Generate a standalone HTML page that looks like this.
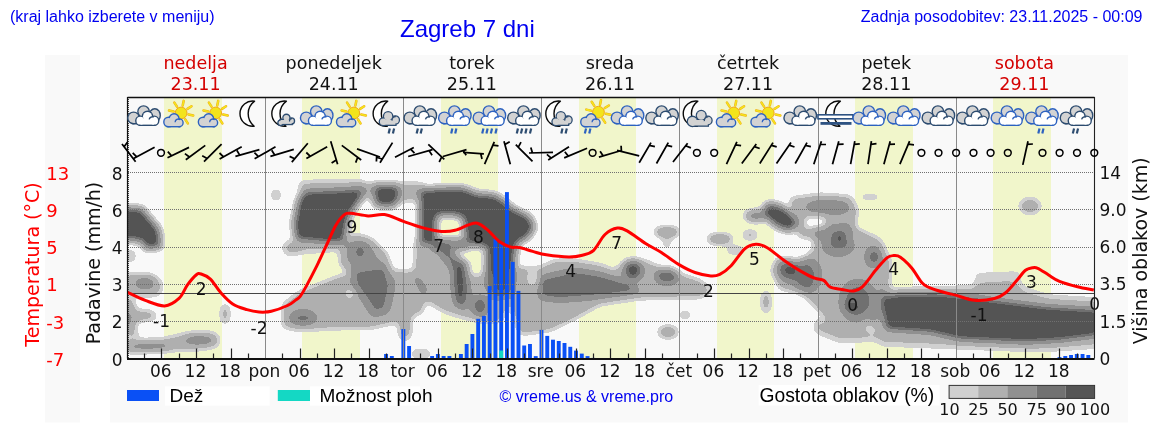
<!DOCTYPE html>
<html><head><meta charset="utf-8"><title>Zagreb 7 dni</title>
<style>html,body{margin:0;padding:0;background:#fff;overflow:hidden}svg{display:block}</style></head>
<body><svg width="1152" height="443" viewBox="0 0 1152 443">
<rect x="45" y="55" width="35" height="367.5" fill="#f9f9f9"/>
<rect x="110" y="55" width="1018" height="367.5" fill="#f9f9f9"/>
<rect x="127.5" y="97.0" width="967.0" height="261.5" fill="#f9f9f9"/>
<rect x="164.0" y="97.0" width="58.0" height="261.5" fill="#f1f6cb"/>
<rect x="302.0" y="97.0" width="58.0" height="261.5" fill="#f1f6cb"/>
<rect x="441.0" y="97.0" width="57.0" height="261.5" fill="#f1f6cb"/>
<rect x="579.0" y="97.0" width="57.0" height="261.5" fill="#f1f6cb"/>
<rect x="717.0" y="97.0" width="57.0" height="261.5" fill="#f1f6cb"/>
<rect x="855.0" y="97.0" width="58.0" height="261.5" fill="#f1f6cb"/>
<rect x="993.0" y="97.0" width="58.0" height="261.5" fill="#f1f6cb"/>
<defs><filter id="cf" x="127.5" y="160" width="967" height="199" filterUnits="userSpaceOnUse" color-interpolation-filters="sRGB">
<feGaussianBlur in="SourceAlpha" stdDeviation="3.5" result="b"/>
<feColorMatrix in="b" type="matrix" values="0 0 0 1 0 0 0 0 1 0 0 0 0 1 0 0 0 0 1 0" result="m"/>
<feComponentTransfer in="m">
<feFuncR type="discrete" tableValues="1.000 1.000 0.816 0.816 0.816 0.690 0.690 0.690 0.690 0.690 0.565 0.565 0.565 0.565 0.565 0.440 0.440 0.440 0.333 0.333"/>
<feFuncG type="discrete" tableValues="1.000 1.000 0.816 0.816 0.816 0.690 0.690 0.690 0.690 0.690 0.565 0.565 0.565 0.565 0.565 0.440 0.440 0.440 0.333 0.333"/>
<feFuncB type="discrete" tableValues="1.000 1.000 0.816 0.816 0.816 0.690 0.690 0.690 0.690 0.690 0.565 0.565 0.565 0.565 0.565 0.440 0.440 0.440 0.333 0.333"/>
<feFuncA type="discrete" tableValues="0 0 1 1 1 1 1 1 1 1 1 1 1 1 1 1 1 1 1 1"/>
</feComponentTransfer></filter>
<clipPath id="cc"><rect x="128" y="165" width="966.5" height="193.5"/></clipPath></defs>
<g clip-path="url(#cc)"><g filter="url(#cf)" fill="#000">
<path d="M120,207 L142,208 L150,218 L159.5,229 L161.5,247.5 L146,249.5 L141,241.5 L120,239.5 Z" fill-opacity="1" fill-rule="evenodd"/>
<ellipse cx="130" cy="256" rx="4" ry="5" fill-opacity="0.45"/>
<path d="M124,275 L135,274 L152,275 L160,281 L162,289 L157,295 L135,295 L124,294 Z" fill-opacity="0.42" fill-rule="evenodd"/>
<ellipse cx="145" cy="283" rx="8" ry="4" fill-opacity="0.75"/>
<path d="M122,299 L133,299 L135,311 L152,312 L157,318 L136,321 L133,331 L122,331 Z" fill-opacity="0.45" fill-rule="evenodd"/>
<ellipse cx="128" cy="320" rx="5" ry="10" fill-opacity="0.2"/>
<path d="M122,341 L160,340 L178,336 L190,333 L214,333 L219,338 L217,346 L200,349 L170,350 L122,352 Z" fill-opacity="0.42" fill-rule="evenodd"/>
<ellipse cx="199" cy="340" rx="14" ry="2.5" fill-opacity="0.85"/>
<ellipse cx="150" cy="347" rx="21" ry="2.5" fill-opacity="0.75"/>
<ellipse cx="132" cy="334" rx="6" ry="5" fill-opacity="0.3"/>
<ellipse cx="225" cy="314" rx="3" ry="10" fill-opacity="0.5"/>
<ellipse cx="276" cy="195" rx="2.5" ry="4" fill-opacity="0.7"/>
<path d="M306,191 L320,190.5 L340,189.8 L358,188.5 L363,195 L358,204 L352,212 L348,222 L346,235 L343,242 L330,243 L310,241 L296,240 L294,232 L293.5,220 L295.5,214 L296.5,205 L300,196 Z" fill-opacity="1" fill-rule="evenodd"/>
<path d="M300,182 L330,181 L360,181 L368,188 L362,200 L300,198 Z" fill-opacity="0.35" fill-rule="evenodd"/>
<ellipse cx="292" cy="248" rx="9" ry="7" fill-opacity="0.35"/>
<path d="M296,238 L345,238 L343,250 L300,253 Z" fill-opacity="0.3" fill-rule="evenodd"/>
<path d="M356,184 L424,184 L424,199 L400,201 L378,200 L365,197 L356,196 Z" fill-opacity="0.42" fill-rule="evenodd"/>
<path d="M374,185 L398,185 L399,200 L393,207 L375,206 Z" fill-opacity="1" fill-rule="evenodd"/>
<path d="M343,240 L355,235 L370,239 L385,253 L391,268 L380,276 L350,274 L340,262 Z" fill-opacity="0.5" fill-rule="evenodd"/>
<ellipse cx="360" cy="252" rx="8" ry="9" fill-opacity="0.6"/>
<path d="M283,305 L300,292 L320,284 L340,276 L380,270 L415,272 L428,288 L422,312 L392,323 L370,328 L340,328 L300,330 L283,327 Z M346,289 L354,289 L354,298 L346,298 Z" fill-opacity="0.4" fill-rule="evenodd"/>
<path d="M352,270 L386,267 L394,284 L388,312 L373,316 L363,300 L352,286 Z" fill-opacity="0.62" fill-rule="evenodd"/>
<ellipse cx="303" cy="318" rx="13" ry="7" fill-opacity="0.65"/>
<path d="M419.5,190 L432,188 L460,187 L468,189 L476,193 L495,194.5 L505,201 L512,207.5 L530,216.5 L535,227.8 L528,238 L518,243 L516,253 L514,270 L486,270 L486,247 L472,246 L468,241 L464.5,238 L463,218 L452,215 L438,215.5 L436.5,222 L436.5,241 L436,244 L419.5,244 Z" fill-opacity="1" fill-rule="evenodd"/>
<path d="M432,239 L468,239 L470,249 L432,251 Z" fill-opacity="0.75" fill-rule="evenodd"/>
<path d="M416,240 L440,240 L455,252 L465,262 L468,276 L482,276 L486,268 L512,268 L512,300 L500,322 L482,322 L465,318 L445,312 L425,300 L414,280 Z" fill-opacity="0.38" fill-rule="evenodd"/>
<ellipse cx="480" cy="306" rx="8" ry="10" fill-opacity="0.8"/>
<path d="M436,240 L446,244 L456,255 L462,262 L468,262 L470,300 L465,310 L455,305 L452,270 L440,255 Z" fill-opacity="0.65" fill-rule="evenodd"/>
<ellipse cx="459" cy="282" rx="6" ry="22" fill-opacity="0.85"/>
<path d="M486,268 L514,268 L512,295 L495,300 L486,285 Z" fill-opacity="0.85" fill-rule="evenodd"/>
<path d="M512,268 L540,268 L555,261 L575,261 L600,265 L615,271 L625,261 L645,261 L660,268 L700,281 L712,291 L700,297 L640,298 L600,304 L575,318 L550,330 L520,334 L510,300 Z M528,271 L537,271 L537,285 L528,285 Z" fill-opacity="0.42" fill-rule="evenodd"/>
<path d="M540,278 L575,270 L600,274 L630,283 L640,292 L600,297 L560,300 L540,298 Z" fill-opacity="0.72" fill-rule="evenodd"/>
<ellipse cx="421" cy="354" rx="10" ry="3" fill-opacity="0.45"/>
<ellipse cx="405" cy="326" rx="6" ry="14" fill-opacity="0.42"/>
<ellipse cx="633" cy="270" rx="9" ry="10" fill-opacity="0.95"/>
<ellipse cx="667" cy="276" rx="11" ry="7" fill-opacity="0.88"/>
<ellipse cx="667" cy="232" rx="12" ry="3.5" fill-opacity="0.75"/>
<ellipse cx="667" cy="242" rx="3" ry="6" fill-opacity="0.35"/>
<ellipse cx="720" cy="239" rx="12" ry="3.5" fill-opacity="0.75"/>
<ellipse cx="685" cy="315" rx="5" ry="3" fill-opacity="0.45"/>
<ellipse cx="668" cy="332" rx="9" ry="5" fill-opacity="0.55"/>
<ellipse cx="780" cy="217" rx="19" ry="10" fill-opacity="1" transform="rotate(35 780 217)"/>
<path d="M790,199 L820,195 L850,197 L857,210 L853,232 L840,237 L800,237 Z M804,216 L826,216 L826,230 L804,230 Z" fill-opacity="0.45" fill-rule="evenodd"/>
<ellipse cx="828" cy="207" rx="20" ry="5" fill-opacity="0.65"/>
<ellipse cx="756" cy="216" rx="11" ry="5" fill-opacity="0.72"/>
<ellipse cx="750" cy="235" rx="7" ry="3.5" fill-opacity="0.45"/>
<ellipse cx="735" cy="250" rx="9" ry="2.5" fill-opacity="0.45"/>
<ellipse cx="766" cy="302" rx="3" ry="11" fill-opacity="0.55"/>
<path d="M812,228 L850,226 L880,240 L890,262 L888,295 L880,320 L860,326 L830,322 L810,300 L800,292 L780,288 L772,270 L778,258 L800,262 L815,250 Z" fill-opacity="0.45" fill-rule="evenodd"/>
<ellipse cx="805" cy="275" rx="14" ry="16" fill-opacity="0.6"/>
<ellipse cx="858" cy="300" rx="16" ry="18" fill-opacity="0.6"/>
<ellipse cx="838" cy="245" rx="14" ry="9" fill-opacity="0.55"/>
<ellipse cx="840" cy="238" rx="7" ry="6" fill-opacity="0.85"/>
<ellipse cx="874" cy="257" rx="6" ry="8" fill-opacity="0.85"/>
<ellipse cx="852" cy="307" rx="9" ry="6" fill-opacity="0.85"/>
<ellipse cx="788" cy="270" rx="10" ry="10" fill-opacity="0.85"/>
<ellipse cx="808" cy="285" rx="3" ry="3" fill-opacity="0.85"/>
<path d="M815,320 L860,322 L880,340 L840,342 L815,332 Z" fill-opacity="0.3" fill-rule="evenodd"/>
<path d="M881,297 L900,293 L940,293 L960,295 L1000,300 L1048,306 L1100,309 L1100,336 L1060,341 L1026,343 L960,340 L930,333 L885,330 Z" fill-opacity="1" fill-rule="evenodd"/>
<path d="M880,290 L960,287 L1010,284 L1050,296 L1100,299 L1100,347 L1040,351 L960,348 L880,345 L868,320 Z" fill-opacity="0.3" fill-rule="evenodd"/>
<path d="M975,273 L1020,271 L1022,290 L975,294 Z" fill-opacity="0.2" fill-rule="evenodd"/>
<ellipse cx="1030" cy="206" rx="10" ry="7" fill-opacity="0.45"/>
<ellipse cx="870" cy="197" rx="12" ry="1.5" fill-opacity="0.5"/>
<ellipse cx="944" cy="201" rx="2" ry="2" fill-opacity="0.5"/>
</g></g>
<rect x="384.12" y="354.00" width="3.9" height="4.50" fill="#0a50f5"/>
<rect x="389.88" y="356.00" width="3.9" height="2.50" fill="#0a50f5"/>
<rect x="401.39" y="329.00" width="3.9" height="29.50" fill="#0a50f5"/>
<rect x="407.14" y="346.00" width="3.9" height="12.50" fill="#0a50f5"/>
<rect x="430.17" y="356.00" width="3.9" height="2.50" fill="#0a50f5"/>
<rect x="435.92" y="354.00" width="3.9" height="4.50" fill="#0a50f5"/>
<rect x="441.68" y="356.00" width="3.9" height="2.50" fill="#0a50f5"/>
<rect x="447.44" y="356.00" width="3.9" height="2.50" fill="#0a50f5"/>
<rect x="458.95" y="354.00" width="3.9" height="4.50" fill="#0a50f5"/>
<rect x="464.70" y="344.00" width="3.9" height="14.50" fill="#0a50f5"/>
<rect x="470.46" y="334.00" width="3.9" height="24.50" fill="#0a50f5"/>
<rect x="476.22" y="318.80" width="3.9" height="39.70" fill="#0a50f5"/>
<rect x="481.97" y="315.90" width="3.9" height="42.60" fill="#0a50f5"/>
<rect x="487.73" y="286.10" width="3.9" height="72.40" fill="#0a50f5"/>
<rect x="493.48" y="238.90" width="3.9" height="119.60" fill="#0a50f5"/>
<rect x="499.24" y="243.90" width="3.9" height="114.60" fill="#0a50f5"/>
<rect x="505.00" y="192.10" width="3.9" height="166.40" fill="#0a50f5"/>
<rect x="510.75" y="261.90" width="3.9" height="96.60" fill="#0a50f5"/>
<rect x="516.51" y="290.90" width="3.9" height="67.60" fill="#0a50f5"/>
<rect x="522.26" y="345.50" width="3.9" height="13.00" fill="#0a50f5"/>
<rect x="528.02" y="344.00" width="3.9" height="14.50" fill="#0a50f5"/>
<rect x="533.78" y="356.10" width="3.9" height="2.40" fill="#0a50f5"/>
<rect x="539.53" y="329.90" width="3.9" height="28.60" fill="#0a50f5"/>
<rect x="545.29" y="335.90" width="3.9" height="22.60" fill="#0a50f5"/>
<rect x="551.04" y="339.70" width="3.9" height="18.80" fill="#0a50f5"/>
<rect x="556.80" y="341.00" width="3.9" height="17.50" fill="#0a50f5"/>
<rect x="562.56" y="343.00" width="3.9" height="15.50" fill="#0a50f5"/>
<rect x="568.31" y="346.80" width="3.9" height="11.70" fill="#0a50f5"/>
<rect x="574.07" y="350.60" width="3.9" height="7.90" fill="#0a50f5"/>
<rect x="579.82" y="353.60" width="3.9" height="4.90" fill="#0a50f5"/>
<rect x="585.58" y="356.10" width="3.9" height="2.40" fill="#0a50f5"/>
<rect x="591.34" y="357.90" width="3.9" height="0.60" fill="#0a50f5"/>
<rect x="1051.82" y="358.00" width="3.9" height="0.50" fill="#0a50f5"/>
<rect x="1057.57" y="357.10" width="3.9" height="1.40" fill="#0a50f5"/>
<rect x="1063.33" y="356.00" width="3.9" height="2.50" fill="#0a50f5"/>
<rect x="1069.08" y="355.00" width="3.9" height="3.50" fill="#0a50f5"/>
<rect x="1074.84" y="354.00" width="3.9" height="4.50" fill="#0a50f5"/>
<rect x="1080.60" y="354.00" width="3.9" height="4.50" fill="#0a50f5"/>
<rect x="1086.35" y="355.00" width="3.9" height="3.50" fill="#0a50f5"/>
<rect x="499.24" y="350.50" width="3.9" height="8" fill="#14d8c4"/>
<line x1="128" y1="321.5" x2="1094" y2="321.5" stroke="#707070" stroke-width="1" stroke-dasharray="1 1"/>
<line x1="128" y1="284.5" x2="1094" y2="284.5" stroke="#707070" stroke-width="1" stroke-dasharray="1 1"/>
<line x1="128" y1="247.5" x2="1094" y2="247.5" stroke="#707070" stroke-width="1" stroke-dasharray="1 1"/>
<line x1="128" y1="209.5" x2="1094" y2="209.5" stroke="#707070" stroke-width="1" stroke-dasharray="1 1"/>
<line x1="128" y1="172.5" x2="1094" y2="172.5" stroke="#707070" stroke-width="1" stroke-dasharray="1 1"/>
<line x1="127.5" y1="293.5" x2="1094.5" y2="293.5" stroke="#444" stroke-width="1"/>
<line x1="265.5" y1="97.0" x2="265.5" y2="358.5" stroke="#8a8a8a" stroke-width="1"/>
<line x1="403.5" y1="97.0" x2="403.5" y2="358.5" stroke="#8a8a8a" stroke-width="1"/>
<line x1="541.5" y1="97.0" x2="541.5" y2="358.5" stroke="#8a8a8a" stroke-width="1"/>
<line x1="679.5" y1="97.0" x2="679.5" y2="358.5" stroke="#8a8a8a" stroke-width="1"/>
<line x1="818.5" y1="97.0" x2="818.5" y2="358.5" stroke="#8a8a8a" stroke-width="1"/>
<line x1="956.5" y1="97.0" x2="956.5" y2="358.5" stroke="#8a8a8a" stroke-width="1"/>
<line x1="128.5" y1="97.0" x2="128.5" y2="358.5" stroke="#444" stroke-width="1" stroke-dasharray="1 1"/>
<path d="M127.5,292.3 C130.5,293.7 139.1,298.1 145.3,300.4 C151.5,302.7 159.0,306.2 164.6,305.9 C170.2,305.6 175.2,301.9 179.0,298.4 C182.8,294.9 184.5,289.0 187.3,285.1 C190.2,281.2 193.8,276.9 196.1,275.0 C198.4,273.1 198.8,273.3 201.2,274.0 C203.6,274.7 207.2,276.1 210.4,279.1 C213.6,282.2 216.8,288.2 220.5,292.3 C224.2,296.4 228.3,301.0 232.7,303.9 C237.1,306.8 242.6,308.2 247.0,309.6 C251.4,311.0 255.1,311.7 259.1,312.0 C263.2,312.3 266.6,312.3 271.3,311.2 C276.1,310.1 283.7,307.3 287.6,305.5 C291.6,303.7 292.9,302.1 295.0,300.6 C297.1,299.1 298.2,298.8 300.0,296.6 C301.8,294.4 302.7,292.7 305.5,287.6 C308.3,282.5 313.0,273.5 316.7,266.1 C320.4,258.7 324.3,249.8 327.5,243.0 C330.7,236.2 333.0,230.1 335.7,225.4 C338.4,220.8 341.3,217.1 343.8,215.1 C346.3,213.1 346.5,213.1 350.6,213.2 C354.7,213.3 362.6,215.7 368.2,215.9 C373.8,216.1 378.6,213.7 384.5,214.6 C390.4,215.5 397.1,219.2 403.4,221.4 C409.7,223.6 416.1,225.9 422.4,227.6 C428.7,229.3 436.0,231.0 441.4,231.4 C446.8,231.8 450.5,231.4 455.0,230.3 C459.5,229.2 464.8,226.1 468.5,224.9 C472.2,223.7 474.2,222.4 477.4,223.2 C480.6,224.0 484.0,226.9 487.6,229.9 C491.2,232.9 495.1,238.4 498.9,241.2 C502.6,244.0 506.7,245.8 510.1,246.9 C513.5,248.0 515.4,246.8 519.2,247.6 C523.0,248.3 528.2,250.2 532.7,251.4 C537.2,252.6 540.3,253.9 546.3,254.8 C552.3,255.7 562.8,256.9 568.8,257.0 C574.8,257.1 578.2,256.3 582.4,255.2 C586.5,254.1 589.9,253.7 593.7,250.3 C597.5,246.8 601.0,238.2 605.0,234.5 C609.0,230.8 613.6,228.7 617.4,228.1 C621.1,227.5 622.8,228.5 627.5,231.1 C632.2,233.7 640.0,239.9 645.6,243.5 C651.2,247.1 655.8,248.9 661.4,252.5 C667.0,256.1 673.8,261.6 679.4,264.9 C685.0,268.2 689.8,270.7 695.0,272.5 C700.2,274.3 706.7,275.6 710.8,275.9 C714.9,276.2 716.4,276.0 719.8,274.3 C723.2,272.6 727.0,270.0 731.1,265.7 C735.2,261.5 740.6,252.4 744.7,248.8 C748.8,245.2 752.1,244.5 755.9,244.3 C759.6,244.1 762.3,244.9 767.2,247.7 C772.1,250.5 779.6,257.3 785.3,261.2 C790.9,265.2 796.2,268.6 801.1,271.4 C806.0,274.2 810.8,276.7 814.6,278.2 C818.4,279.7 821.1,278.9 823.7,280.4 C826.3,281.9 827.4,285.7 830.4,287.2 C833.4,288.7 837.9,288.8 841.7,289.4 C845.5,290.0 849.6,291.4 853.0,291.0 C856.4,290.6 858.2,290.7 862.0,287.2 C865.8,283.8 871.5,275.2 875.6,270.3 C879.8,265.4 883.9,260.2 886.9,257.8 C889.9,255.4 891.4,255.7 893.6,255.6 C895.9,255.5 897.4,255.1 900.4,257.2 C903.4,259.3 908.1,263.7 911.7,268.0 C915.3,272.3 919.2,279.8 922.2,283.1 C925.2,286.4 926.1,286.2 929.4,287.6 C932.7,289.1 937.6,290.5 942.1,291.8 C946.6,293.1 951.1,294.0 956.5,295.4 C961.9,296.8 968.3,299.8 974.6,300.3 C980.9,300.8 989.4,299.7 994.5,298.5 C999.6,297.3 1001.7,295.9 1005.3,293.0 C1008.9,290.1 1012.8,285.1 1016.1,281.3 C1019.4,277.6 1022.5,272.8 1025.2,270.5 C1027.9,268.2 1030.3,268.2 1032.4,267.8 C1034.5,267.4 1035.1,267.1 1037.8,268.3 C1040.5,269.5 1045.0,272.8 1048.6,275.0 C1052.2,277.2 1054.7,279.4 1059.5,281.3 C1064.3,283.2 1071.8,285.3 1077.5,286.7 C1083.2,288.2 1091.1,289.4 1093.8,290.0" fill="none" stroke="#ff0000" stroke-width="3" stroke-linejoin="round"/>
<text x="161.6" y="326.8" text-anchor="middle" style="font-family:'DejaVu Sans',sans-serif;font-size:17px" fill="#111">-1</text>
<text x="201.2" y="294.7" text-anchor="middle" style="font-family:'DejaVu Sans',sans-serif;font-size:17px" fill="#111">2</text>
<text x="259.0" y="333.7" text-anchor="middle" style="font-family:'DejaVu Sans',sans-serif;font-size:17px" fill="#111">-2</text>
<text x="352.0" y="233.0" text-anchor="middle" style="font-family:'DejaVu Sans',sans-serif;font-size:17px" fill="#111">9</text>
<text x="438.7" y="251.9" text-anchor="middle" style="font-family:'DejaVu Sans',sans-serif;font-size:17px" fill="#111">7</text>
<text x="478.5" y="242.9" text-anchor="middle" style="font-family:'DejaVu Sans',sans-serif;font-size:17px" fill="#111">8</text>
<text x="570.6" y="277.2" text-anchor="middle" style="font-family:'DejaVu Sans',sans-serif;font-size:17px" fill="#111">4</text>
<text x="616.7" y="248.5" text-anchor="middle" style="font-family:'DejaVu Sans',sans-serif;font-size:17px" fill="#111">7</text>
<text x="708.5" y="296.7" text-anchor="middle" style="font-family:'DejaVu Sans',sans-serif;font-size:17px" fill="#111">2</text>
<text x="754.4" y="265.1" text-anchor="middle" style="font-family:'DejaVu Sans',sans-serif;font-size:17px" fill="#111">5</text>
<text x="852.6" y="311.4" text-anchor="middle" style="font-family:'DejaVu Sans',sans-serif;font-size:17px" fill="#111">0</text>
<text x="893.6" y="275.3" text-anchor="middle" style="font-family:'DejaVu Sans',sans-serif;font-size:17px" fill="#111">4</text>
<text x="979.1" y="321.3" text-anchor="middle" style="font-family:'DejaVu Sans',sans-serif;font-size:17px" fill="#111">-1</text>
<text x="1031.5" y="288.3" text-anchor="middle" style="font-family:'DejaVu Sans',sans-serif;font-size:17px" fill="#111">3</text>
<text x="1094.7" y="309.6" text-anchor="middle" style="font-family:'DejaVu Sans',sans-serif;font-size:17px" fill="#111">0</text>
<line x1="144.5" y1="358.5" x2="144.5" y2="353.5" stroke="#222" stroke-width="1.2"/>
<line x1="161.5" y1="358.5" x2="161.5" y2="348.5" stroke="#222" stroke-width="1.2"/>
<line x1="179.5" y1="358.5" x2="179.5" y2="353.5" stroke="#222" stroke-width="1.2"/>
<line x1="196.5" y1="358.5" x2="196.5" y2="348.5" stroke="#222" stroke-width="1.2"/>
<line x1="213.5" y1="358.5" x2="213.5" y2="353.5" stroke="#222" stroke-width="1.2"/>
<line x1="231.5" y1="358.5" x2="231.5" y2="348.5" stroke="#222" stroke-width="1.2"/>
<line x1="248.5" y1="358.5" x2="248.5" y2="353.5" stroke="#222" stroke-width="1.2"/>
<line x1="282.5" y1="358.5" x2="282.5" y2="353.5" stroke="#222" stroke-width="1.2"/>
<line x1="300.5" y1="358.5" x2="300.5" y2="348.5" stroke="#222" stroke-width="1.2"/>
<line x1="317.5" y1="358.5" x2="317.5" y2="353.5" stroke="#222" stroke-width="1.2"/>
<line x1="334.5" y1="358.5" x2="334.5" y2="348.5" stroke="#222" stroke-width="1.2"/>
<line x1="351.5" y1="358.5" x2="351.5" y2="353.5" stroke="#222" stroke-width="1.2"/>
<line x1="369.5" y1="358.5" x2="369.5" y2="348.5" stroke="#222" stroke-width="1.2"/>
<line x1="386.5" y1="358.5" x2="386.5" y2="353.5" stroke="#222" stroke-width="1.2"/>
<line x1="420.5" y1="358.5" x2="420.5" y2="353.5" stroke="#222" stroke-width="1.2"/>
<line x1="438.5" y1="358.5" x2="438.5" y2="348.5" stroke="#222" stroke-width="1.2"/>
<line x1="455.5" y1="358.5" x2="455.5" y2="353.5" stroke="#222" stroke-width="1.2"/>
<line x1="472.5" y1="358.5" x2="472.5" y2="348.5" stroke="#222" stroke-width="1.2"/>
<line x1="490.5" y1="358.5" x2="490.5" y2="353.5" stroke="#222" stroke-width="1.2"/>
<line x1="507.5" y1="358.5" x2="507.5" y2="348.5" stroke="#222" stroke-width="1.2"/>
<line x1="524.5" y1="358.5" x2="524.5" y2="353.5" stroke="#222" stroke-width="1.2"/>
<line x1="559.5" y1="358.5" x2="559.5" y2="353.5" stroke="#222" stroke-width="1.2"/>
<line x1="576.5" y1="358.5" x2="576.5" y2="348.5" stroke="#222" stroke-width="1.2"/>
<line x1="593.5" y1="358.5" x2="593.5" y2="353.5" stroke="#222" stroke-width="1.2"/>
<line x1="610.5" y1="358.5" x2="610.5" y2="348.5" stroke="#222" stroke-width="1.2"/>
<line x1="628.5" y1="358.5" x2="628.5" y2="353.5" stroke="#222" stroke-width="1.2"/>
<line x1="645.5" y1="358.5" x2="645.5" y2="348.5" stroke="#222" stroke-width="1.2"/>
<line x1="662.5" y1="358.5" x2="662.5" y2="353.5" stroke="#222" stroke-width="1.2"/>
<line x1="697.5" y1="358.5" x2="697.5" y2="353.5" stroke="#222" stroke-width="1.2"/>
<line x1="714.5" y1="358.5" x2="714.5" y2="348.5" stroke="#222" stroke-width="1.2"/>
<line x1="731.5" y1="358.5" x2="731.5" y2="353.5" stroke="#222" stroke-width="1.2"/>
<line x1="749.5" y1="358.5" x2="749.5" y2="348.5" stroke="#222" stroke-width="1.2"/>
<line x1="766.5" y1="358.5" x2="766.5" y2="353.5" stroke="#222" stroke-width="1.2"/>
<line x1="783.5" y1="358.5" x2="783.5" y2="348.5" stroke="#222" stroke-width="1.2"/>
<line x1="800.5" y1="358.5" x2="800.5" y2="353.5" stroke="#222" stroke-width="1.2"/>
<line x1="835.5" y1="358.5" x2="835.5" y2="353.5" stroke="#222" stroke-width="1.2"/>
<line x1="852.5" y1="358.5" x2="852.5" y2="348.5" stroke="#222" stroke-width="1.2"/>
<line x1="869.5" y1="358.5" x2="869.5" y2="353.5" stroke="#222" stroke-width="1.2"/>
<line x1="887.5" y1="358.5" x2="887.5" y2="348.5" stroke="#222" stroke-width="1.2"/>
<line x1="904.5" y1="358.5" x2="904.5" y2="353.5" stroke="#222" stroke-width="1.2"/>
<line x1="921.5" y1="358.5" x2="921.5" y2="348.5" stroke="#222" stroke-width="1.2"/>
<line x1="938.5" y1="358.5" x2="938.5" y2="353.5" stroke="#222" stroke-width="1.2"/>
<line x1="973.5" y1="358.5" x2="973.5" y2="353.5" stroke="#222" stroke-width="1.2"/>
<line x1="990.5" y1="358.5" x2="990.5" y2="348.5" stroke="#222" stroke-width="1.2"/>
<line x1="1008.5" y1="358.5" x2="1008.5" y2="353.5" stroke="#222" stroke-width="1.2"/>
<line x1="1025.5" y1="358.5" x2="1025.5" y2="348.5" stroke="#222" stroke-width="1.2"/>
<line x1="1042.5" y1="358.5" x2="1042.5" y2="353.5" stroke="#222" stroke-width="1.2"/>
<line x1="1059.5" y1="358.5" x2="1059.5" y2="348.5" stroke="#222" stroke-width="1.2"/>
<line x1="1077.5" y1="358.5" x2="1077.5" y2="353.5" stroke="#222" stroke-width="1.2"/>
<line x1="127.5" y1="97.5" x2="1094.5" y2="97.5" stroke="#111" stroke-width="1.3"/>
<line x1="1094.5" y1="97.0" x2="1094.5" y2="358.5" stroke="#222" stroke-width="1.1"/>
<line x1="127.0" y1="359.0" x2="1094.5" y2="359.0" stroke="#111" stroke-width="2"/>
<line x1="127.5" y1="97.0" x2="127.5" y2="358.5" stroke="#111" stroke-width="1.2"/>
<g><g fill="#2d4c70" stroke="#2d4c70" stroke-width="2.8"><ellipse cx="133.57" cy="117.90" rx="5.10" ry="5.10"/><ellipse cx="143.57" cy="111.60" rx="5.00" ry="5.00"/><ellipse cx="154.77" cy="115.40" rx="4.80" ry="5.90"/><rect x="133.57" y="116.00" width="21.20" height="7.00"/></g><g fill="#d3d3d3"><ellipse cx="133.57" cy="117.90" rx="5.10" ry="5.10"/><ellipse cx="143.57" cy="111.60" rx="5.00" ry="5.00"/><ellipse cx="154.77" cy="115.40" rx="4.80" ry="5.90"/><rect x="133.57" y="116.00" width="21.20" height="7.00"/></g><g fill="#2d4c70" stroke="#2d4c70" stroke-width="2.8"><ellipse cx="140.37" cy="120.70" rx="3.90" ry="3.90"/><ellipse cx="147.47" cy="116.50" rx="4.50" ry="4.50"/><ellipse cx="154.17" cy="120.70" rx="3.90" ry="3.90"/><rect x="140.37" y="119.00" width="13.80" height="5.60"/></g><g fill="#ffffff"><ellipse cx="140.37" cy="120.70" rx="3.90" ry="3.90"/><ellipse cx="147.47" cy="116.50" rx="4.50" ry="4.50"/><ellipse cx="154.17" cy="120.70" rx="3.90" ry="3.90"/><rect x="140.37" y="119.00" width="13.80" height="5.60"/></g><path d="M149.17,119.40 A3.6,3.6 0 0 1 153.77,117.00" fill="none" stroke="#2d4c70" stroke-width="1.4"/></g>
<g><line x1="188.54" y1="114.58" x2="193.23" y2="115.58" stroke="#f0a818" stroke-width="2.5" stroke-linecap="round"/><line x1="188.54" y1="114.58" x2="193.23" y2="115.58" stroke="#f5e61c" stroke-width="1.6" stroke-linecap="round"/><line x1="185.24" y1="119.37" x2="187.86" y2="123.40" stroke="#f0a818" stroke-width="2.5" stroke-linecap="round"/><line x1="185.24" y1="119.37" x2="187.86" y2="123.40" stroke="#f5e61c" stroke-width="1.6" stroke-linecap="round"/><line x1="179.52" y1="120.43" x2="178.53" y2="125.13" stroke="#f0a818" stroke-width="2.5" stroke-linecap="round"/><line x1="179.52" y1="120.43" x2="178.53" y2="125.13" stroke="#f5e61c" stroke-width="1.6" stroke-linecap="round"/><line x1="174.73" y1="117.14" x2="170.70" y2="119.75" stroke="#f0a818" stroke-width="2.5" stroke-linecap="round"/><line x1="174.73" y1="117.14" x2="170.70" y2="119.75" stroke="#f5e61c" stroke-width="1.6" stroke-linecap="round"/><line x1="173.67" y1="111.42" x2="168.97" y2="110.42" stroke="#f0a818" stroke-width="2.5" stroke-linecap="round"/><line x1="173.67" y1="111.42" x2="168.97" y2="110.42" stroke="#f5e61c" stroke-width="1.6" stroke-linecap="round"/><line x1="176.96" y1="106.63" x2="174.35" y2="102.60" stroke="#f0a818" stroke-width="2.5" stroke-linecap="round"/><line x1="176.96" y1="106.63" x2="174.35" y2="102.60" stroke="#f5e61c" stroke-width="1.6" stroke-linecap="round"/><line x1="182.68" y1="105.57" x2="183.68" y2="100.87" stroke="#f0a818" stroke-width="2.5" stroke-linecap="round"/><line x1="182.68" y1="105.57" x2="183.68" y2="100.87" stroke="#f5e61c" stroke-width="1.6" stroke-linecap="round"/><line x1="187.48" y1="108.86" x2="191.50" y2="106.25" stroke="#f0a818" stroke-width="2.5" stroke-linecap="round"/><line x1="187.48" y1="108.86" x2="191.50" y2="106.25" stroke="#f5e61c" stroke-width="1.6" stroke-linecap="round"/><circle cx="181.10" cy="113.00" r="5.9" fill="#f3e41c" stroke="#f0a818" stroke-width="1"/><g fill="#2d62c0" stroke="#2d62c0" stroke-width="2.8"><ellipse cx="168.60" cy="122.00" rx="4.10" ry="4.10"/><ellipse cx="174.10" cy="118.60" rx="4.20" ry="4.20"/><ellipse cx="179.20" cy="122.80" rx="3.20" ry="3.20"/><rect x="168.60" y="121.00" width="10.60" height="5.00"/></g><g fill="#d3d3d3"><ellipse cx="168.60" cy="122.00" rx="4.10" ry="4.10"/><ellipse cx="174.10" cy="118.60" rx="4.20" ry="4.20"/><ellipse cx="179.20" cy="122.80" rx="3.20" ry="3.20"/><rect x="168.60" y="121.00" width="10.60" height="5.00"/></g><path d="M175.10,122.20 A3.2,3.2 0 0 1 180.10,119.60" fill="none" stroke="#2d62c0" stroke-width="1.3"/></g>
<g><line x1="223.07" y1="114.58" x2="227.77" y2="115.58" stroke="#f0a818" stroke-width="2.5" stroke-linecap="round"/><line x1="223.07" y1="114.58" x2="227.77" y2="115.58" stroke="#f5e61c" stroke-width="1.6" stroke-linecap="round"/><line x1="219.78" y1="119.37" x2="222.39" y2="123.40" stroke="#f0a818" stroke-width="2.5" stroke-linecap="round"/><line x1="219.78" y1="119.37" x2="222.39" y2="123.40" stroke="#f5e61c" stroke-width="1.6" stroke-linecap="round"/><line x1="214.06" y1="120.43" x2="213.06" y2="125.13" stroke="#f0a818" stroke-width="2.5" stroke-linecap="round"/><line x1="214.06" y1="120.43" x2="213.06" y2="125.13" stroke="#f5e61c" stroke-width="1.6" stroke-linecap="round"/><line x1="209.27" y1="117.14" x2="205.24" y2="119.75" stroke="#f0a818" stroke-width="2.5" stroke-linecap="round"/><line x1="209.27" y1="117.14" x2="205.24" y2="119.75" stroke="#f5e61c" stroke-width="1.6" stroke-linecap="round"/><line x1="208.21" y1="111.42" x2="203.51" y2="110.42" stroke="#f0a818" stroke-width="2.5" stroke-linecap="round"/><line x1="208.21" y1="111.42" x2="203.51" y2="110.42" stroke="#f5e61c" stroke-width="1.6" stroke-linecap="round"/><line x1="211.50" y1="106.63" x2="208.89" y2="102.60" stroke="#f0a818" stroke-width="2.5" stroke-linecap="round"/><line x1="211.50" y1="106.63" x2="208.89" y2="102.60" stroke="#f5e61c" stroke-width="1.6" stroke-linecap="round"/><line x1="217.22" y1="105.57" x2="218.22" y2="100.87" stroke="#f0a818" stroke-width="2.5" stroke-linecap="round"/><line x1="217.22" y1="105.57" x2="218.22" y2="100.87" stroke="#f5e61c" stroke-width="1.6" stroke-linecap="round"/><line x1="222.01" y1="108.86" x2="226.04" y2="106.25" stroke="#f0a818" stroke-width="2.5" stroke-linecap="round"/><line x1="222.01" y1="108.86" x2="226.04" y2="106.25" stroke="#f5e61c" stroke-width="1.6" stroke-linecap="round"/><circle cx="215.64" cy="113.00" r="5.9" fill="#f3e41c" stroke="#f0a818" stroke-width="1"/><g fill="#2d62c0" stroke="#2d62c0" stroke-width="2.8"><ellipse cx="203.14" cy="122.00" rx="4.10" ry="4.10"/><ellipse cx="208.64" cy="118.60" rx="4.20" ry="4.20"/><ellipse cx="213.74" cy="122.80" rx="3.20" ry="3.20"/><rect x="203.14" y="121.00" width="10.60" height="5.00"/></g><g fill="#d3d3d3"><ellipse cx="203.14" cy="122.00" rx="4.10" ry="4.10"/><ellipse cx="208.64" cy="118.60" rx="4.20" ry="4.20"/><ellipse cx="213.74" cy="122.80" rx="3.20" ry="3.20"/><rect x="203.14" y="121.00" width="10.60" height="5.00"/></g><path d="M209.64,122.20 A3.2,3.2 0 0 1 214.64,119.60" fill="none" stroke="#2d62c0" stroke-width="1.3"/></g>
<g><path d="M254.58,101.10 A12.67,12.67 0 1 0 254.18,126.20 A15.80,15.80 0 0 1 254.58,101.10 Z" fill="#ffffff" stroke="#0a0a0a" stroke-width="1.4" stroke-linejoin="round"/></g>
<g><path d="M286.41,101.10 A12.67,12.67 0 1 0 286.01,126.20 A15.80,15.80 0 0 1 286.41,101.10 Z" fill="#ffffff" stroke="#0a0a0a" stroke-width="1.4" stroke-linejoin="round"/><g fill="#2d4c70" stroke="#2d4c70" stroke-width="2.6"><ellipse cx="280.61" cy="122.80" rx="2.10" ry="2.10"/><ellipse cx="286.41" cy="117.80" rx="2.90" ry="2.90"/><ellipse cx="291.61" cy="120.90" rx="2.30" ry="2.30"/><rect x="280.61" y="120.00" width="11.00" height="3.90"/></g><g fill="#d3d3d3"><ellipse cx="280.61" cy="122.80" rx="2.10" ry="2.10"/><ellipse cx="286.41" cy="117.80" rx="2.90" ry="2.90"/><ellipse cx="291.61" cy="120.90" rx="2.30" ry="2.30"/><rect x="280.61" y="120.00" width="11.00" height="3.90"/></g><path d="M289.61,121.50 A2.30,2.30 0 0 1 292.11,118.60" fill="none" stroke="#2d4c70" stroke-width="1.3"/></g>
<g><g fill="#2d62c0" stroke="#2d62c0" stroke-width="2.8"><ellipse cx="306.25" cy="117.90" rx="5.10" ry="5.10"/><ellipse cx="316.25" cy="111.60" rx="5.00" ry="5.00"/><ellipse cx="327.45" cy="115.40" rx="4.80" ry="5.90"/><rect x="306.25" y="116.00" width="21.20" height="7.00"/></g><g fill="#d3d3d3"><ellipse cx="306.25" cy="117.90" rx="5.10" ry="5.10"/><ellipse cx="316.25" cy="111.60" rx="5.00" ry="5.00"/><ellipse cx="327.45" cy="115.40" rx="4.80" ry="5.90"/><rect x="306.25" y="116.00" width="21.20" height="7.00"/></g><g fill="#2d62c0" stroke="#2d62c0" stroke-width="2.8"><ellipse cx="313.05" cy="120.70" rx="3.90" ry="3.90"/><ellipse cx="320.15" cy="116.50" rx="4.50" ry="4.50"/><ellipse cx="326.85" cy="120.70" rx="3.90" ry="3.90"/><rect x="313.05" y="119.00" width="13.80" height="5.60"/></g><g fill="#ffffff"><ellipse cx="313.05" cy="120.70" rx="3.90" ry="3.90"/><ellipse cx="320.15" cy="116.50" rx="4.50" ry="4.50"/><ellipse cx="326.85" cy="120.70" rx="3.90" ry="3.90"/><rect x="313.05" y="119.00" width="13.80" height="5.60"/></g><path d="M321.85,119.40 A3.6,3.6 0 0 1 326.45,117.00" fill="none" stroke="#2d62c0" stroke-width="1.4"/></g>
<g><line x1="361.22" y1="114.58" x2="365.91" y2="115.58" stroke="#f0a818" stroke-width="2.5" stroke-linecap="round"/><line x1="361.22" y1="114.58" x2="365.91" y2="115.58" stroke="#f5e61c" stroke-width="1.6" stroke-linecap="round"/><line x1="357.92" y1="119.37" x2="360.54" y2="123.40" stroke="#f0a818" stroke-width="2.5" stroke-linecap="round"/><line x1="357.92" y1="119.37" x2="360.54" y2="123.40" stroke="#f5e61c" stroke-width="1.6" stroke-linecap="round"/><line x1="352.20" y1="120.43" x2="351.21" y2="125.13" stroke="#f0a818" stroke-width="2.5" stroke-linecap="round"/><line x1="352.20" y1="120.43" x2="351.21" y2="125.13" stroke="#f5e61c" stroke-width="1.6" stroke-linecap="round"/><line x1="347.41" y1="117.14" x2="343.38" y2="119.75" stroke="#f0a818" stroke-width="2.5" stroke-linecap="round"/><line x1="347.41" y1="117.14" x2="343.38" y2="119.75" stroke="#f5e61c" stroke-width="1.6" stroke-linecap="round"/><line x1="346.35" y1="111.42" x2="341.65" y2="110.42" stroke="#f0a818" stroke-width="2.5" stroke-linecap="round"/><line x1="346.35" y1="111.42" x2="341.65" y2="110.42" stroke="#f5e61c" stroke-width="1.6" stroke-linecap="round"/><line x1="349.64" y1="106.63" x2="347.03" y2="102.60" stroke="#f0a818" stroke-width="2.5" stroke-linecap="round"/><line x1="349.64" y1="106.63" x2="347.03" y2="102.60" stroke="#f5e61c" stroke-width="1.6" stroke-linecap="round"/><line x1="355.36" y1="105.57" x2="356.36" y2="100.87" stroke="#f0a818" stroke-width="2.5" stroke-linecap="round"/><line x1="355.36" y1="105.57" x2="356.36" y2="100.87" stroke="#f5e61c" stroke-width="1.6" stroke-linecap="round"/><line x1="360.16" y1="108.86" x2="364.18" y2="106.25" stroke="#f0a818" stroke-width="2.5" stroke-linecap="round"/><line x1="360.16" y1="108.86" x2="364.18" y2="106.25" stroke="#f5e61c" stroke-width="1.6" stroke-linecap="round"/><circle cx="353.78" cy="113.00" r="5.9" fill="#f3e41c" stroke="#f0a818" stroke-width="1"/><g fill="#2d62c0" stroke="#2d62c0" stroke-width="2.8"><ellipse cx="341.28" cy="122.00" rx="4.10" ry="4.10"/><ellipse cx="346.78" cy="118.60" rx="4.20" ry="4.20"/><ellipse cx="351.88" cy="122.80" rx="3.20" ry="3.20"/><rect x="341.28" y="121.00" width="10.60" height="5.00"/></g><g fill="#d3d3d3"><ellipse cx="341.28" cy="122.00" rx="4.10" ry="4.10"/><ellipse cx="346.78" cy="118.60" rx="4.20" ry="4.20"/><ellipse cx="351.88" cy="122.80" rx="3.20" ry="3.20"/><rect x="341.28" y="121.00" width="10.60" height="5.00"/></g><path d="M347.78,122.20 A3.2,3.2 0 0 1 352.78,119.60" fill="none" stroke="#2d62c0" stroke-width="1.3"/></g>
<g><path d="M387.72,101.10 A12.67,12.67 0 1 0 387.32,126.20 A15.80,15.80 0 0 1 387.72,101.10 Z" fill="#ffffff" stroke="#0a0a0a" stroke-width="1.4" stroke-linejoin="round"/><g fill="#2d4c70" stroke="#2d4c70" stroke-width="2.6"><ellipse cx="383.22" cy="121.80" rx="3.30" ry="3.30"/><ellipse cx="388.12" cy="116.30" rx="4.00" ry="4.00"/><ellipse cx="395.32" cy="120.00" rx="3.50" ry="3.50"/><rect x="383.22" y="120.00" width="12.10" height="4.70"/></g><g fill="#d3d3d3"><ellipse cx="383.22" cy="121.80" rx="3.30" ry="3.30"/><ellipse cx="388.12" cy="116.30" rx="4.00" ry="4.00"/><ellipse cx="395.32" cy="120.00" rx="3.50" ry="3.50"/><rect x="383.22" y="120.00" width="12.10" height="4.70"/></g><path d="M392.12,120.60 A3.50,3.50 0 0 1 395.82,116.50" fill="none" stroke="#2d4c70" stroke-width="1.3"/><line x1="388.62" y1="133.60" x2="389.82" y2="128.50" stroke="#2d4c70" stroke-width="2.2"/><line x1="392.92" y1="133.60" x2="394.12" y2="128.50" stroke="#2d4c70" stroke-width="2.2"/></g>
<g><g fill="#2d4c70" stroke="#2d4c70" stroke-width="2.8"><ellipse cx="409.86" cy="117.90" rx="5.10" ry="5.10"/><ellipse cx="419.86" cy="111.60" rx="5.00" ry="5.00"/><ellipse cx="431.06" cy="115.40" rx="4.80" ry="5.90"/><rect x="409.86" y="116.00" width="21.20" height="7.00"/></g><g fill="#d3d3d3"><ellipse cx="409.86" cy="117.90" rx="5.10" ry="5.10"/><ellipse cx="419.86" cy="111.60" rx="5.00" ry="5.00"/><ellipse cx="431.06" cy="115.40" rx="4.80" ry="5.90"/><rect x="409.86" y="116.00" width="21.20" height="7.00"/></g><g fill="#2d4c70" stroke="#2d4c70" stroke-width="2.8"><ellipse cx="416.66" cy="120.70" rx="3.90" ry="3.90"/><ellipse cx="423.76" cy="116.50" rx="4.50" ry="4.50"/><ellipse cx="430.46" cy="120.70" rx="3.90" ry="3.90"/><rect x="416.66" y="119.00" width="13.80" height="5.60"/></g><g fill="#ffffff"><ellipse cx="416.66" cy="120.70" rx="3.90" ry="3.90"/><ellipse cx="423.76" cy="116.50" rx="4.50" ry="4.50"/><ellipse cx="430.46" cy="120.70" rx="3.90" ry="3.90"/><rect x="416.66" y="119.00" width="13.80" height="5.60"/></g><path d="M425.46,119.40 A3.6,3.6 0 0 1 430.06,117.00" fill="none" stroke="#2d4c70" stroke-width="1.4"/><line x1="416.66" y1="133.60" x2="417.86" y2="128.50" stroke="#2d4c70" stroke-width="2.2"/><line x1="420.66" y1="133.60" x2="421.86" y2="128.50" stroke="#2d4c70" stroke-width="2.2"/></g>
<g><g fill="#2d62c0" stroke="#2d62c0" stroke-width="2.8"><ellipse cx="444.39" cy="117.90" rx="5.10" ry="5.10"/><ellipse cx="454.39" cy="111.60" rx="5.00" ry="5.00"/><ellipse cx="465.59" cy="115.40" rx="4.80" ry="5.90"/><rect x="444.39" y="116.00" width="21.20" height="7.00"/></g><g fill="#d3d3d3"><ellipse cx="444.39" cy="117.90" rx="5.10" ry="5.10"/><ellipse cx="454.39" cy="111.60" rx="5.00" ry="5.00"/><ellipse cx="465.59" cy="115.40" rx="4.80" ry="5.90"/><rect x="444.39" y="116.00" width="21.20" height="7.00"/></g><g fill="#2d62c0" stroke="#2d62c0" stroke-width="2.8"><ellipse cx="451.19" cy="120.70" rx="3.90" ry="3.90"/><ellipse cx="458.29" cy="116.50" rx="4.50" ry="4.50"/><ellipse cx="464.99" cy="120.70" rx="3.90" ry="3.90"/><rect x="451.19" y="119.00" width="13.80" height="5.60"/></g><g fill="#ffffff"><ellipse cx="451.19" cy="120.70" rx="3.90" ry="3.90"/><ellipse cx="458.29" cy="116.50" rx="4.50" ry="4.50"/><ellipse cx="464.99" cy="120.70" rx="3.90" ry="3.90"/><rect x="451.19" y="119.00" width="13.80" height="5.60"/></g><path d="M459.99,119.40 A3.6,3.6 0 0 1 464.59,117.00" fill="none" stroke="#2d62c0" stroke-width="1.4"/><line x1="451.19" y1="133.60" x2="452.39" y2="128.50" stroke="#2d62c0" stroke-width="2.2"/><line x1="455.19" y1="133.60" x2="456.39" y2="128.50" stroke="#2d62c0" stroke-width="2.2"/></g>
<g><g fill="#2d62c0" stroke="#2d62c0" stroke-width="2.8"><ellipse cx="478.93" cy="117.90" rx="5.10" ry="5.10"/><ellipse cx="488.93" cy="111.60" rx="5.00" ry="5.00"/><ellipse cx="500.13" cy="115.40" rx="4.80" ry="5.90"/><rect x="478.93" y="116.00" width="21.20" height="7.00"/></g><g fill="#d3d3d3"><ellipse cx="478.93" cy="117.90" rx="5.10" ry="5.10"/><ellipse cx="488.93" cy="111.60" rx="5.00" ry="5.00"/><ellipse cx="500.13" cy="115.40" rx="4.80" ry="5.90"/><rect x="478.93" y="116.00" width="21.20" height="7.00"/></g><g fill="#2d62c0" stroke="#2d62c0" stroke-width="2.8"><ellipse cx="485.73" cy="120.70" rx="3.90" ry="3.90"/><ellipse cx="492.83" cy="116.50" rx="4.50" ry="4.50"/><ellipse cx="499.53" cy="120.70" rx="3.90" ry="3.90"/><rect x="485.73" y="119.00" width="13.80" height="5.60"/></g><g fill="#ffffff"><ellipse cx="485.73" cy="120.70" rx="3.90" ry="3.90"/><ellipse cx="492.83" cy="116.50" rx="4.50" ry="4.50"/><ellipse cx="499.53" cy="120.70" rx="3.90" ry="3.90"/><rect x="485.73" y="119.00" width="13.80" height="5.60"/></g><path d="M494.53,119.40 A3.6,3.6 0 0 1 499.13,117.00" fill="none" stroke="#2d62c0" stroke-width="1.4"/><line x1="482.23" y1="133.60" x2="483.43" y2="128.50" stroke="#2d62c0" stroke-width="2.2"/><line x1="486.43" y1="133.60" x2="487.63" y2="128.50" stroke="#2d62c0" stroke-width="2.2"/><line x1="490.83" y1="133.60" x2="492.03" y2="128.50" stroke="#2d62c0" stroke-width="2.2"/><line x1="495.43" y1="133.60" x2="496.63" y2="128.50" stroke="#2d62c0" stroke-width="2.2"/></g>
<g><g fill="#2d4c70" stroke="#2d4c70" stroke-width="2.8"><ellipse cx="513.46" cy="117.90" rx="5.10" ry="5.10"/><ellipse cx="523.46" cy="111.60" rx="5.00" ry="5.00"/><ellipse cx="534.66" cy="115.40" rx="4.80" ry="5.90"/><rect x="513.46" y="116.00" width="21.20" height="7.00"/></g><g fill="#d3d3d3"><ellipse cx="513.46" cy="117.90" rx="5.10" ry="5.10"/><ellipse cx="523.46" cy="111.60" rx="5.00" ry="5.00"/><ellipse cx="534.66" cy="115.40" rx="4.80" ry="5.90"/><rect x="513.46" y="116.00" width="21.20" height="7.00"/></g><g fill="#2d4c70" stroke="#2d4c70" stroke-width="2.8"><ellipse cx="520.26" cy="120.70" rx="3.90" ry="3.90"/><ellipse cx="527.36" cy="116.50" rx="4.50" ry="4.50"/><ellipse cx="534.06" cy="120.70" rx="3.90" ry="3.90"/><rect x="520.26" y="119.00" width="13.80" height="5.60"/></g><g fill="#ffffff"><ellipse cx="520.26" cy="120.70" rx="3.90" ry="3.90"/><ellipse cx="527.36" cy="116.50" rx="4.50" ry="4.50"/><ellipse cx="534.06" cy="120.70" rx="3.90" ry="3.90"/><rect x="520.26" y="119.00" width="13.80" height="5.60"/></g><path d="M529.06,119.40 A3.6,3.6 0 0 1 533.66,117.00" fill="none" stroke="#2d4c70" stroke-width="1.4"/><line x1="516.76" y1="133.60" x2="517.96" y2="128.50" stroke="#2d4c70" stroke-width="2.2"/><line x1="520.96" y1="133.60" x2="522.16" y2="128.50" stroke="#2d4c70" stroke-width="2.2"/><line x1="525.36" y1="133.60" x2="526.56" y2="128.50" stroke="#2d4c70" stroke-width="2.2"/><line x1="529.96" y1="133.60" x2="531.16" y2="128.50" stroke="#2d4c70" stroke-width="2.2"/></g>
<g><path d="M560.40,101.10 A12.67,12.67 0 1 0 560.00,126.20 A15.80,15.80 0 0 1 560.40,101.10 Z" fill="#ffffff" stroke="#0a0a0a" stroke-width="1.4" stroke-linejoin="round"/><g fill="#2d4c70" stroke="#2d4c70" stroke-width="2.6"><ellipse cx="555.90" cy="121.80" rx="3.30" ry="3.30"/><ellipse cx="560.80" cy="116.30" rx="4.00" ry="4.00"/><ellipse cx="568.00" cy="120.00" rx="3.50" ry="3.50"/><rect x="555.90" y="120.00" width="12.10" height="4.70"/></g><g fill="#d3d3d3"><ellipse cx="555.90" cy="121.80" rx="3.30" ry="3.30"/><ellipse cx="560.80" cy="116.30" rx="4.00" ry="4.00"/><ellipse cx="568.00" cy="120.00" rx="3.50" ry="3.50"/><rect x="555.90" y="120.00" width="12.10" height="4.70"/></g><path d="M564.80,120.60 A3.50,3.50 0 0 1 568.50,116.50" fill="none" stroke="#2d4c70" stroke-width="1.3"/><line x1="561.30" y1="133.60" x2="562.50" y2="128.50" stroke="#2d4c70" stroke-width="2.2"/><line x1="565.60" y1="133.60" x2="566.80" y2="128.50" stroke="#2d4c70" stroke-width="2.2"/></g>
<g><line x1="605.87" y1="113.78" x2="610.57" y2="114.78" stroke="#f0a818" stroke-width="2.5" stroke-linecap="round"/><line x1="605.87" y1="113.78" x2="610.57" y2="114.78" stroke="#f5e61c" stroke-width="1.6" stroke-linecap="round"/><line x1="602.58" y1="118.57" x2="605.19" y2="122.60" stroke="#f0a818" stroke-width="2.5" stroke-linecap="round"/><line x1="602.58" y1="118.57" x2="605.19" y2="122.60" stroke="#f5e61c" stroke-width="1.6" stroke-linecap="round"/><line x1="596.86" y1="119.63" x2="595.86" y2="124.33" stroke="#f0a818" stroke-width="2.5" stroke-linecap="round"/><line x1="596.86" y1="119.63" x2="595.86" y2="124.33" stroke="#f5e61c" stroke-width="1.6" stroke-linecap="round"/><line x1="592.06" y1="116.34" x2="588.04" y2="118.95" stroke="#f0a818" stroke-width="2.5" stroke-linecap="round"/><line x1="592.06" y1="116.34" x2="588.04" y2="118.95" stroke="#f5e61c" stroke-width="1.6" stroke-linecap="round"/><line x1="591.00" y1="110.62" x2="586.31" y2="109.62" stroke="#f0a818" stroke-width="2.5" stroke-linecap="round"/><line x1="591.00" y1="110.62" x2="586.31" y2="109.62" stroke="#f5e61c" stroke-width="1.6" stroke-linecap="round"/><line x1="594.30" y1="105.83" x2="591.68" y2="101.80" stroke="#f0a818" stroke-width="2.5" stroke-linecap="round"/><line x1="594.30" y1="105.83" x2="591.68" y2="101.80" stroke="#f5e61c" stroke-width="1.6" stroke-linecap="round"/><line x1="600.02" y1="104.77" x2="601.01" y2="100.07" stroke="#f0a818" stroke-width="2.5" stroke-linecap="round"/><line x1="600.02" y1="104.77" x2="601.01" y2="100.07" stroke="#f5e61c" stroke-width="1.6" stroke-linecap="round"/><line x1="604.81" y1="108.06" x2="608.84" y2="105.45" stroke="#f0a818" stroke-width="2.5" stroke-linecap="round"/><line x1="604.81" y1="108.06" x2="608.84" y2="105.45" stroke="#f5e61c" stroke-width="1.6" stroke-linecap="round"/><circle cx="598.44" cy="112.20" r="5.9" fill="#f3e41c" stroke="#f0a818" stroke-width="1"/><g fill="#2d62c0" stroke="#2d62c0" stroke-width="2.8"><ellipse cx="585.54" cy="122.00" rx="4.10" ry="4.10"/><ellipse cx="591.04" cy="118.60" rx="4.20" ry="4.20"/><ellipse cx="596.14" cy="122.80" rx="3.20" ry="3.20"/><rect x="585.54" y="121.00" width="10.60" height="5.00"/></g><g fill="#d3d3d3"><ellipse cx="585.54" cy="122.00" rx="4.10" ry="4.10"/><ellipse cx="591.04" cy="118.60" rx="4.20" ry="4.20"/><ellipse cx="596.14" cy="122.80" rx="3.20" ry="3.20"/><rect x="585.54" y="121.00" width="10.60" height="5.00"/></g><path d="M592.04,122.20 A3.2,3.2 0 0 1 597.04,119.60" fill="none" stroke="#2d62c0" stroke-width="1.3"/><line x1="584.84" y1="133.60" x2="586.04" y2="128.50" stroke="#2d62c0" stroke-width="2.2"/><line x1="589.24" y1="133.60" x2="590.44" y2="128.50" stroke="#2d62c0" stroke-width="2.2"/></g>
<g><g fill="#2d62c0" stroke="#2d62c0" stroke-width="2.8"><ellipse cx="617.07" cy="117.90" rx="5.10" ry="5.10"/><ellipse cx="627.07" cy="111.60" rx="5.00" ry="5.00"/><ellipse cx="638.27" cy="115.40" rx="4.80" ry="5.90"/><rect x="617.07" y="116.00" width="21.20" height="7.00"/></g><g fill="#d3d3d3"><ellipse cx="617.07" cy="117.90" rx="5.10" ry="5.10"/><ellipse cx="627.07" cy="111.60" rx="5.00" ry="5.00"/><ellipse cx="638.27" cy="115.40" rx="4.80" ry="5.90"/><rect x="617.07" y="116.00" width="21.20" height="7.00"/></g><g fill="#2d62c0" stroke="#2d62c0" stroke-width="2.8"><ellipse cx="623.87" cy="120.70" rx="3.90" ry="3.90"/><ellipse cx="630.97" cy="116.50" rx="4.50" ry="4.50"/><ellipse cx="637.67" cy="120.70" rx="3.90" ry="3.90"/><rect x="623.87" y="119.00" width="13.80" height="5.60"/></g><g fill="#ffffff"><ellipse cx="623.87" cy="120.70" rx="3.90" ry="3.90"/><ellipse cx="630.97" cy="116.50" rx="4.50" ry="4.50"/><ellipse cx="637.67" cy="120.70" rx="3.90" ry="3.90"/><rect x="623.87" y="119.00" width="13.80" height="5.60"/></g><path d="M632.67,119.40 A3.6,3.6 0 0 1 637.27,117.00" fill="none" stroke="#2d62c0" stroke-width="1.4"/></g>
<g><g fill="#2d4c70" stroke="#2d4c70" stroke-width="2.8"><ellipse cx="651.61" cy="117.90" rx="5.10" ry="5.10"/><ellipse cx="661.61" cy="111.60" rx="5.00" ry="5.00"/><ellipse cx="672.81" cy="115.40" rx="4.80" ry="5.90"/><rect x="651.61" y="116.00" width="21.20" height="7.00"/></g><g fill="#d3d3d3"><ellipse cx="651.61" cy="117.90" rx="5.10" ry="5.10"/><ellipse cx="661.61" cy="111.60" rx="5.00" ry="5.00"/><ellipse cx="672.81" cy="115.40" rx="4.80" ry="5.90"/><rect x="651.61" y="116.00" width="21.20" height="7.00"/></g><g fill="#2d4c70" stroke="#2d4c70" stroke-width="2.8"><ellipse cx="658.41" cy="120.70" rx="3.90" ry="3.90"/><ellipse cx="665.51" cy="116.50" rx="4.50" ry="4.50"/><ellipse cx="672.21" cy="120.70" rx="3.90" ry="3.90"/><rect x="658.41" y="119.00" width="13.80" height="5.60"/></g><g fill="#ffffff"><ellipse cx="658.41" cy="120.70" rx="3.90" ry="3.90"/><ellipse cx="665.51" cy="116.50" rx="4.50" ry="4.50"/><ellipse cx="672.21" cy="120.70" rx="3.90" ry="3.90"/><rect x="658.41" y="119.00" width="13.80" height="5.60"/></g><path d="M667.21,119.40 A3.6,3.6 0 0 1 671.81,117.00" fill="none" stroke="#2d4c70" stroke-width="1.4"/></g>
<g><path d="M697.84,101.10 A12.67,12.67 0 1 0 697.44,126.20 A15.80,15.80 0 0 1 697.84,101.10 Z" fill="#ffffff" stroke="#0a0a0a" stroke-width="1.4" stroke-linejoin="round"/><g fill="#2d4c70" stroke="#2d4c70" stroke-width="2.6"><ellipse cx="692.44" cy="121.40" rx="4.50" ry="4.50"/><ellipse cx="701.24" cy="115.40" rx="4.30" ry="4.30"/><ellipse cx="707.74" cy="120.50" rx="3.70" ry="3.70"/><rect x="692.44" y="120.00" width="15.30" height="5.50"/></g><g fill="#d3d3d3"><ellipse cx="692.44" cy="121.40" rx="4.50" ry="4.50"/><ellipse cx="701.24" cy="115.40" rx="4.30" ry="4.30"/><ellipse cx="707.74" cy="120.50" rx="3.70" ry="3.70"/><rect x="692.44" y="120.00" width="15.30" height="5.50"/></g><path d="M704.34,121.10 A3.70,3.70 0 0 1 708.24,116.80" fill="none" stroke="#2d4c70" stroke-width="1.3"/></g>
<g><line x1="741.11" y1="114.58" x2="745.81" y2="115.58" stroke="#f0a818" stroke-width="2.5" stroke-linecap="round"/><line x1="741.11" y1="114.58" x2="745.81" y2="115.58" stroke="#f5e61c" stroke-width="1.6" stroke-linecap="round"/><line x1="737.82" y1="119.37" x2="740.43" y2="123.40" stroke="#f0a818" stroke-width="2.5" stroke-linecap="round"/><line x1="737.82" y1="119.37" x2="740.43" y2="123.40" stroke="#f5e61c" stroke-width="1.6" stroke-linecap="round"/><line x1="732.10" y1="120.43" x2="731.10" y2="125.13" stroke="#f0a818" stroke-width="2.5" stroke-linecap="round"/><line x1="732.10" y1="120.43" x2="731.10" y2="125.13" stroke="#f5e61c" stroke-width="1.6" stroke-linecap="round"/><line x1="727.31" y1="117.14" x2="723.28" y2="119.75" stroke="#f0a818" stroke-width="2.5" stroke-linecap="round"/><line x1="727.31" y1="117.14" x2="723.28" y2="119.75" stroke="#f5e61c" stroke-width="1.6" stroke-linecap="round"/><line x1="726.25" y1="111.42" x2="721.55" y2="110.42" stroke="#f0a818" stroke-width="2.5" stroke-linecap="round"/><line x1="726.25" y1="111.42" x2="721.55" y2="110.42" stroke="#f5e61c" stroke-width="1.6" stroke-linecap="round"/><line x1="729.54" y1="106.63" x2="726.93" y2="102.60" stroke="#f0a818" stroke-width="2.5" stroke-linecap="round"/><line x1="729.54" y1="106.63" x2="726.93" y2="102.60" stroke="#f5e61c" stroke-width="1.6" stroke-linecap="round"/><line x1="735.26" y1="105.57" x2="736.26" y2="100.87" stroke="#f0a818" stroke-width="2.5" stroke-linecap="round"/><line x1="735.26" y1="105.57" x2="736.26" y2="100.87" stroke="#f5e61c" stroke-width="1.6" stroke-linecap="round"/><line x1="740.05" y1="108.86" x2="744.08" y2="106.25" stroke="#f0a818" stroke-width="2.5" stroke-linecap="round"/><line x1="740.05" y1="108.86" x2="744.08" y2="106.25" stroke="#f5e61c" stroke-width="1.6" stroke-linecap="round"/><circle cx="733.68" cy="113.00" r="5.9" fill="#f3e41c" stroke="#f0a818" stroke-width="1"/><g fill="#2d62c0" stroke="#2d62c0" stroke-width="2.8"><ellipse cx="721.18" cy="122.00" rx="4.10" ry="4.10"/><ellipse cx="726.68" cy="118.60" rx="4.20" ry="4.20"/><ellipse cx="731.78" cy="122.80" rx="3.20" ry="3.20"/><rect x="721.18" y="121.00" width="10.60" height="5.00"/></g><g fill="#d3d3d3"><ellipse cx="721.18" cy="122.00" rx="4.10" ry="4.10"/><ellipse cx="726.68" cy="118.60" rx="4.20" ry="4.20"/><ellipse cx="731.78" cy="122.80" rx="3.20" ry="3.20"/><rect x="721.18" y="121.00" width="10.60" height="5.00"/></g><path d="M727.68,122.20 A3.2,3.2 0 0 1 732.68,119.60" fill="none" stroke="#2d62c0" stroke-width="1.3"/></g>
<g><line x1="775.65" y1="114.58" x2="780.35" y2="115.58" stroke="#f0a818" stroke-width="2.5" stroke-linecap="round"/><line x1="775.65" y1="114.58" x2="780.35" y2="115.58" stroke="#f5e61c" stroke-width="1.6" stroke-linecap="round"/><line x1="772.36" y1="119.37" x2="774.97" y2="123.40" stroke="#f0a818" stroke-width="2.5" stroke-linecap="round"/><line x1="772.36" y1="119.37" x2="774.97" y2="123.40" stroke="#f5e61c" stroke-width="1.6" stroke-linecap="round"/><line x1="766.64" y1="120.43" x2="765.64" y2="125.13" stroke="#f0a818" stroke-width="2.5" stroke-linecap="round"/><line x1="766.64" y1="120.43" x2="765.64" y2="125.13" stroke="#f5e61c" stroke-width="1.6" stroke-linecap="round"/><line x1="761.84" y1="117.14" x2="757.82" y2="119.75" stroke="#f0a818" stroke-width="2.5" stroke-linecap="round"/><line x1="761.84" y1="117.14" x2="757.82" y2="119.75" stroke="#f5e61c" stroke-width="1.6" stroke-linecap="round"/><line x1="760.78" y1="111.42" x2="756.09" y2="110.42" stroke="#f0a818" stroke-width="2.5" stroke-linecap="round"/><line x1="760.78" y1="111.42" x2="756.09" y2="110.42" stroke="#f5e61c" stroke-width="1.6" stroke-linecap="round"/><line x1="764.08" y1="106.63" x2="761.46" y2="102.60" stroke="#f0a818" stroke-width="2.5" stroke-linecap="round"/><line x1="764.08" y1="106.63" x2="761.46" y2="102.60" stroke="#f5e61c" stroke-width="1.6" stroke-linecap="round"/><line x1="769.80" y1="105.57" x2="770.79" y2="100.87" stroke="#f0a818" stroke-width="2.5" stroke-linecap="round"/><line x1="769.80" y1="105.57" x2="770.79" y2="100.87" stroke="#f5e61c" stroke-width="1.6" stroke-linecap="round"/><line x1="774.59" y1="108.86" x2="778.62" y2="106.25" stroke="#f0a818" stroke-width="2.5" stroke-linecap="round"/><line x1="774.59" y1="108.86" x2="778.62" y2="106.25" stroke="#f5e61c" stroke-width="1.6" stroke-linecap="round"/><circle cx="768.22" cy="113.00" r="5.9" fill="#f3e41c" stroke="#f0a818" stroke-width="1"/><g fill="#2d62c0" stroke="#2d62c0" stroke-width="2.8"><ellipse cx="755.72" cy="122.00" rx="4.10" ry="4.10"/><ellipse cx="761.22" cy="118.60" rx="4.20" ry="4.20"/><ellipse cx="766.32" cy="122.80" rx="3.20" ry="3.20"/><rect x="755.72" y="121.00" width="10.60" height="5.00"/></g><g fill="#d3d3d3"><ellipse cx="755.72" cy="122.00" rx="4.10" ry="4.10"/><ellipse cx="761.22" cy="118.60" rx="4.20" ry="4.20"/><ellipse cx="766.32" cy="122.80" rx="3.20" ry="3.20"/><rect x="755.72" y="121.00" width="10.60" height="5.00"/></g><path d="M762.22,122.20 A3.2,3.2 0 0 1 767.22,119.60" fill="none" stroke="#2d62c0" stroke-width="1.3"/></g>
<g><g fill="#2d4c70" stroke="#2d4c70" stroke-width="2.8"><ellipse cx="789.75" cy="117.90" rx="5.10" ry="5.10"/><ellipse cx="799.75" cy="111.60" rx="5.00" ry="5.00"/><ellipse cx="810.95" cy="115.40" rx="4.80" ry="5.90"/><rect x="789.75" y="116.00" width="21.20" height="7.00"/></g><g fill="#d3d3d3"><ellipse cx="789.75" cy="117.90" rx="5.10" ry="5.10"/><ellipse cx="799.75" cy="111.60" rx="5.00" ry="5.00"/><ellipse cx="810.95" cy="115.40" rx="4.80" ry="5.90"/><rect x="789.75" y="116.00" width="21.20" height="7.00"/></g><g fill="#2d4c70" stroke="#2d4c70" stroke-width="2.8"><ellipse cx="796.55" cy="120.70" rx="3.90" ry="3.90"/><ellipse cx="803.65" cy="116.50" rx="4.50" ry="4.50"/><ellipse cx="810.35" cy="120.70" rx="3.90" ry="3.90"/><rect x="796.55" y="119.00" width="13.80" height="5.60"/></g><g fill="#ffffff"><ellipse cx="796.55" cy="120.70" rx="3.90" ry="3.90"/><ellipse cx="803.65" cy="116.50" rx="4.50" ry="4.50"/><ellipse cx="810.35" cy="120.70" rx="3.90" ry="3.90"/><rect x="796.55" y="119.00" width="13.80" height="5.60"/></g><path d="M805.35,119.40 A3.6,3.6 0 0 1 809.95,117.00" fill="none" stroke="#2d4c70" stroke-width="1.4"/></g>
<g><path d="M840.39,101.10 A12.67,12.67 0 1 0 839.99,126.20 A15.80,15.80 0 0 1 840.39,101.10 Z" fill="#ffffff" stroke="#0a0a0a" stroke-width="1.4" stroke-linejoin="round"/><rect x="817.99" y="114.80" width="35" height="4" fill="#ffffff" stroke="#2d5282" stroke-width="1.6"/><rect x="820.49" y="122.00" width="31" height="2.8" fill="#2d5282"/></g>
<g><g fill="#2d62c0" stroke="#2d62c0" stroke-width="2.8"><ellipse cx="858.82" cy="117.90" rx="5.10" ry="5.10"/><ellipse cx="868.82" cy="111.60" rx="5.00" ry="5.00"/><ellipse cx="880.02" cy="115.40" rx="4.80" ry="5.90"/><rect x="858.82" y="116.00" width="21.20" height="7.00"/></g><g fill="#d3d3d3"><ellipse cx="858.82" cy="117.90" rx="5.10" ry="5.10"/><ellipse cx="868.82" cy="111.60" rx="5.00" ry="5.00"/><ellipse cx="880.02" cy="115.40" rx="4.80" ry="5.90"/><rect x="858.82" y="116.00" width="21.20" height="7.00"/></g><g fill="#2d62c0" stroke="#2d62c0" stroke-width="2.8"><ellipse cx="865.62" cy="120.70" rx="3.90" ry="3.90"/><ellipse cx="872.72" cy="116.50" rx="4.50" ry="4.50"/><ellipse cx="879.42" cy="120.70" rx="3.90" ry="3.90"/><rect x="865.62" y="119.00" width="13.80" height="5.60"/></g><g fill="#ffffff"><ellipse cx="865.62" cy="120.70" rx="3.90" ry="3.90"/><ellipse cx="872.72" cy="116.50" rx="4.50" ry="4.50"/><ellipse cx="879.42" cy="120.70" rx="3.90" ry="3.90"/><rect x="865.62" y="119.00" width="13.80" height="5.60"/></g><path d="M874.42,119.40 A3.6,3.6 0 0 1 879.02,117.00" fill="none" stroke="#2d62c0" stroke-width="1.4"/></g>
<g><g fill="#2d62c0" stroke="#2d62c0" stroke-width="2.8"><ellipse cx="893.36" cy="117.90" rx="5.10" ry="5.10"/><ellipse cx="903.36" cy="111.60" rx="5.00" ry="5.00"/><ellipse cx="914.56" cy="115.40" rx="4.80" ry="5.90"/><rect x="893.36" y="116.00" width="21.20" height="7.00"/></g><g fill="#d3d3d3"><ellipse cx="893.36" cy="117.90" rx="5.10" ry="5.10"/><ellipse cx="903.36" cy="111.60" rx="5.00" ry="5.00"/><ellipse cx="914.56" cy="115.40" rx="4.80" ry="5.90"/><rect x="893.36" y="116.00" width="21.20" height="7.00"/></g><g fill="#2d62c0" stroke="#2d62c0" stroke-width="2.8"><ellipse cx="900.16" cy="120.70" rx="3.90" ry="3.90"/><ellipse cx="907.26" cy="116.50" rx="4.50" ry="4.50"/><ellipse cx="913.96" cy="120.70" rx="3.90" ry="3.90"/><rect x="900.16" y="119.00" width="13.80" height="5.60"/></g><g fill="#ffffff"><ellipse cx="900.16" cy="120.70" rx="3.90" ry="3.90"/><ellipse cx="907.26" cy="116.50" rx="4.50" ry="4.50"/><ellipse cx="913.96" cy="120.70" rx="3.90" ry="3.90"/><rect x="900.16" y="119.00" width="13.80" height="5.60"/></g><path d="M908.96,119.40 A3.6,3.6 0 0 1 913.56,117.00" fill="none" stroke="#2d62c0" stroke-width="1.4"/></g>
<g><g fill="#2d4c70" stroke="#2d4c70" stroke-width="2.8"><ellipse cx="927.90" cy="117.90" rx="5.10" ry="5.10"/><ellipse cx="937.90" cy="111.60" rx="5.00" ry="5.00"/><ellipse cx="949.10" cy="115.40" rx="4.80" ry="5.90"/><rect x="927.90" y="116.00" width="21.20" height="7.00"/></g><g fill="#d3d3d3"><ellipse cx="927.90" cy="117.90" rx="5.10" ry="5.10"/><ellipse cx="937.90" cy="111.60" rx="5.00" ry="5.00"/><ellipse cx="949.10" cy="115.40" rx="4.80" ry="5.90"/><rect x="927.90" y="116.00" width="21.20" height="7.00"/></g><g fill="#2d4c70" stroke="#2d4c70" stroke-width="2.8"><ellipse cx="934.70" cy="120.70" rx="3.90" ry="3.90"/><ellipse cx="941.80" cy="116.50" rx="4.50" ry="4.50"/><ellipse cx="948.50" cy="120.70" rx="3.90" ry="3.90"/><rect x="934.70" y="119.00" width="13.80" height="5.60"/></g><g fill="#ffffff"><ellipse cx="934.70" cy="120.70" rx="3.90" ry="3.90"/><ellipse cx="941.80" cy="116.50" rx="4.50" ry="4.50"/><ellipse cx="948.50" cy="120.70" rx="3.90" ry="3.90"/><rect x="934.70" y="119.00" width="13.80" height="5.60"/></g><path d="M943.50,119.40 A3.6,3.6 0 0 1 948.10,117.00" fill="none" stroke="#2d4c70" stroke-width="1.4"/></g>
<g><g fill="#2d4c70" stroke="#2d4c70" stroke-width="2.8"><ellipse cx="962.43" cy="117.90" rx="5.10" ry="5.10"/><ellipse cx="972.43" cy="111.60" rx="5.00" ry="5.00"/><ellipse cx="983.63" cy="115.40" rx="4.80" ry="5.90"/><rect x="962.43" y="116.00" width="21.20" height="7.00"/></g><g fill="#d3d3d3"><ellipse cx="962.43" cy="117.90" rx="5.10" ry="5.10"/><ellipse cx="972.43" cy="111.60" rx="5.00" ry="5.00"/><ellipse cx="983.63" cy="115.40" rx="4.80" ry="5.90"/><rect x="962.43" y="116.00" width="21.20" height="7.00"/></g><g fill="#2d4c70" stroke="#2d4c70" stroke-width="2.8"><ellipse cx="969.23" cy="120.70" rx="3.90" ry="3.90"/><ellipse cx="976.33" cy="116.50" rx="4.50" ry="4.50"/><ellipse cx="983.03" cy="120.70" rx="3.90" ry="3.90"/><rect x="969.23" y="119.00" width="13.80" height="5.60"/></g><g fill="#ffffff"><ellipse cx="969.23" cy="120.70" rx="3.90" ry="3.90"/><ellipse cx="976.33" cy="116.50" rx="4.50" ry="4.50"/><ellipse cx="983.03" cy="120.70" rx="3.90" ry="3.90"/><rect x="969.23" y="119.00" width="13.80" height="5.60"/></g><path d="M978.03,119.40 A3.6,3.6 0 0 1 982.63,117.00" fill="none" stroke="#2d4c70" stroke-width="1.4"/></g>
<g><g fill="#2d62c0" stroke="#2d62c0" stroke-width="2.8"><ellipse cx="996.97" cy="117.90" rx="5.10" ry="5.10"/><ellipse cx="1006.97" cy="111.60" rx="5.00" ry="5.00"/><ellipse cx="1018.17" cy="115.40" rx="4.80" ry="5.90"/><rect x="996.97" y="116.00" width="21.20" height="7.00"/></g><g fill="#d3d3d3"><ellipse cx="996.97" cy="117.90" rx="5.10" ry="5.10"/><ellipse cx="1006.97" cy="111.60" rx="5.00" ry="5.00"/><ellipse cx="1018.17" cy="115.40" rx="4.80" ry="5.90"/><rect x="996.97" y="116.00" width="21.20" height="7.00"/></g><g fill="#2d62c0" stroke="#2d62c0" stroke-width="2.8"><ellipse cx="1003.77" cy="120.70" rx="3.90" ry="3.90"/><ellipse cx="1010.87" cy="116.50" rx="4.50" ry="4.50"/><ellipse cx="1017.57" cy="120.70" rx="3.90" ry="3.90"/><rect x="1003.77" y="119.00" width="13.80" height="5.60"/></g><g fill="#ffffff"><ellipse cx="1003.77" cy="120.70" rx="3.90" ry="3.90"/><ellipse cx="1010.87" cy="116.50" rx="4.50" ry="4.50"/><ellipse cx="1017.57" cy="120.70" rx="3.90" ry="3.90"/><rect x="1003.77" y="119.00" width="13.80" height="5.60"/></g><path d="M1012.57,119.40 A3.6,3.6 0 0 1 1017.17,117.00" fill="none" stroke="#2d62c0" stroke-width="1.4"/></g>
<g><g fill="#2d62c0" stroke="#2d62c0" stroke-width="2.8"><ellipse cx="1031.50" cy="117.90" rx="5.10" ry="5.10"/><ellipse cx="1041.50" cy="111.60" rx="5.00" ry="5.00"/><ellipse cx="1052.70" cy="115.40" rx="4.80" ry="5.90"/><rect x="1031.50" y="116.00" width="21.20" height="7.00"/></g><g fill="#d3d3d3"><ellipse cx="1031.50" cy="117.90" rx="5.10" ry="5.10"/><ellipse cx="1041.50" cy="111.60" rx="5.00" ry="5.00"/><ellipse cx="1052.70" cy="115.40" rx="4.80" ry="5.90"/><rect x="1031.50" y="116.00" width="21.20" height="7.00"/></g><g fill="#2d62c0" stroke="#2d62c0" stroke-width="2.8"><ellipse cx="1038.30" cy="120.70" rx="3.90" ry="3.90"/><ellipse cx="1045.40" cy="116.50" rx="4.50" ry="4.50"/><ellipse cx="1052.10" cy="120.70" rx="3.90" ry="3.90"/><rect x="1038.30" y="119.00" width="13.80" height="5.60"/></g><g fill="#ffffff"><ellipse cx="1038.30" cy="120.70" rx="3.90" ry="3.90"/><ellipse cx="1045.40" cy="116.50" rx="4.50" ry="4.50"/><ellipse cx="1052.10" cy="120.70" rx="3.90" ry="3.90"/><rect x="1038.30" y="119.00" width="13.80" height="5.60"/></g><path d="M1047.10,119.40 A3.6,3.6 0 0 1 1051.70,117.00" fill="none" stroke="#2d62c0" stroke-width="1.4"/><line x1="1038.30" y1="133.60" x2="1039.50" y2="128.50" stroke="#2d62c0" stroke-width="2.2"/><line x1="1042.30" y1="133.60" x2="1043.50" y2="128.50" stroke="#2d62c0" stroke-width="2.2"/></g>
<g><g fill="#2d4c70" stroke="#2d4c70" stroke-width="2.8"><ellipse cx="1066.04" cy="117.90" rx="5.10" ry="5.10"/><ellipse cx="1076.04" cy="111.60" rx="5.00" ry="5.00"/><ellipse cx="1087.24" cy="115.40" rx="4.80" ry="5.90"/><rect x="1066.04" y="116.00" width="21.20" height="7.00"/></g><g fill="#d3d3d3"><ellipse cx="1066.04" cy="117.90" rx="5.10" ry="5.10"/><ellipse cx="1076.04" cy="111.60" rx="5.00" ry="5.00"/><ellipse cx="1087.24" cy="115.40" rx="4.80" ry="5.90"/><rect x="1066.04" y="116.00" width="21.20" height="7.00"/></g><g fill="#2d4c70" stroke="#2d4c70" stroke-width="2.8"><ellipse cx="1072.84" cy="120.70" rx="3.90" ry="3.90"/><ellipse cx="1079.94" cy="116.50" rx="4.50" ry="4.50"/><ellipse cx="1086.64" cy="120.70" rx="3.90" ry="3.90"/><rect x="1072.84" y="119.00" width="13.80" height="5.60"/></g><g fill="#ffffff"><ellipse cx="1072.84" cy="120.70" rx="3.90" ry="3.90"/><ellipse cx="1079.94" cy="116.50" rx="4.50" ry="4.50"/><ellipse cx="1086.64" cy="120.70" rx="3.90" ry="3.90"/><rect x="1072.84" y="119.00" width="13.80" height="5.60"/></g><path d="M1081.64,119.40 A3.6,3.6 0 0 1 1086.24,117.00" fill="none" stroke="#2d4c70" stroke-width="1.4"/><line x1="1072.84" y1="133.60" x2="1074.04" y2="128.50" stroke="#2d4c70" stroke-width="2.2"/><line x1="1076.84" y1="133.60" x2="1078.04" y2="128.50" stroke="#2d4c70" stroke-width="2.2"/></g>
<path d="M135.6,161.7 L122.0,144.0 M124.1,146.8 L127.4,142.2" fill="none" stroke="#000" stroke-width="1.75"/>
<path d="M154.6,147.3 L133.6,158.6 M136.7,156.9 L132.7,152.9" fill="none" stroke="#000" stroke-width="1.75"/>
<circle cx="161.0" cy="152.8" r="3.4" fill="none" stroke="#000" stroke-width="1.5"/>
<path d="M189.0,147.4 L167.5,157.8 M171.6,155.8 L167.8,151.7" fill="none" stroke="#000" stroke-width="1.75"/>
<path d="M205.3,145.4 L185.8,159.7 M189.4,157.0 L184.9,153.6" fill="none" stroke="#000" stroke-width="1.75"/>
<path d="M221.6,144.1 L204.0,161.7 M207.2,158.5 L202.2,155.8" fill="none" stroke="#000" stroke-width="1.75"/>
<path d="M241.7,146.7 L219.6,159.1 M223.5,156.9 L219.5,153.0" fill="none" stroke="#000" stroke-width="1.75"/>
<path d="M259.4,149.7 L235.4,156.3 M239.7,155.1 L236.8,150.3" fill="none" stroke="#000" stroke-width="1.75"/>
<path d="M275.5,146.8 L254.6,158.8 M258.5,156.6 L254.4,152.7" fill="none" stroke="#000" stroke-width="1.75"/>
<path d="M293.8,149.4 L270.4,156.3 M274.7,155.0 L271.7,150.3" fill="none" stroke="#000" stroke-width="1.75"/>
<path d="M307.8,143.3 L291.8,162.1 M294.7,158.7 L289.6,156.4" fill="none" stroke="#000" stroke-width="1.75"/>
<path d="M327.2,146.8 L306.4,158.6 M310.3,156.4 L306.3,152.5" fill="none" stroke="#000" stroke-width="1.75"/>
<path d="M330.7,141.2 L337.6,164.2 M336.3,159.9 L331.6,163.0" fill="none" stroke="#000" stroke-width="1.75"/>
<path d="M341.8,145.4 L361.2,160.0 M357.7,157.3 L355.7,162.6" fill="none" stroke="#000" stroke-width="1.75"/>
<path d="M357.0,148.9 L380.0,157.0 M376.7,155.8 L376.4,161.5" fill="none" stroke="#000" stroke-width="1.75"/>
<path d="M392.5,142.6 L380.0,162.8 M382.4,159.0 L376.9,157.5" fill="none" stroke="#000" stroke-width="1.75"/>
<path d="M395.0,157.2 L413.8,147.5 M410.6,149.1 L414.5,153.2" fill="none" stroke="#000" stroke-width="1.75"/>
<path d="M408.2,156.5 L432.5,149.6 M429.1,150.6 L432.1,155.3" fill="none" stroke="#000" stroke-width="1.75"/>
<path d="M428.3,144.4 L444.3,159.3 M441.7,156.9 L439.2,162.0" fill="none" stroke="#000" stroke-width="1.75"/>
<path d="M442.9,156.5 L466.5,149.6 M463.1,150.6 L466.2,155.3" fill="none" stroke="#000" stroke-width="1.75"/>
<path d="M463.0,152.4 L483.9,153.8 M480.7,153.5 L482.0,159.0" fill="none" stroke="#000" stroke-width="1.75"/>
<path d="M484.6,164.2 L494.3,141.9 M492.9,145.1 L498.5,145.8" fill="none" stroke="#000" stroke-width="1.75"/>
<path d="M510.3,164.2 L504.0,141.2 M504.9,144.6 L509.7,141.7" fill="none" stroke="#000" stroke-width="1.75"/>
<path d="M532.5,161.4 L515.8,144.7 M518.3,147.2 L521.0,142.2" fill="none" stroke="#000" stroke-width="1.75"/>
<path d="M553.0,152.4 L529.0,153.0 M532.5,152.9 L530.8,147.6" fill="none" stroke="#000" stroke-width="1.75"/>
<path d="M569.0,146.8 L548.2,160.0 M551.2,158.1 L546.9,154.4" fill="none" stroke="#000" stroke-width="1.75"/>
<path d="M587.1,148.2 L564.2,157.9 M568.3,156.1 L564.8,151.8" fill="none" stroke="#000" stroke-width="1.75"/>
<circle cx="592.6" cy="152.8" r="3.4" fill="none" stroke="#000" stroke-width="1.5"/>
<path d="M619.7,151.0 L598.9,157.2 M603.2,155.9 L600.1,151.2" fill="none" stroke="#000" stroke-width="1.75"/>
<path d="M639.2,155.8 L617.0,150.3 M621.4,151.4 L621.1,145.8" fill="none" stroke="#000" stroke-width="1.75"/>
<path d="M639.2,162.8 L651.0,142.6 M649.4,145.4 L654.9,146.7" fill="none" stroke="#000" stroke-width="1.75"/>
<path d="M656.5,163.5 L668.3,142.6 M666.7,145.4 L672.2,146.6" fill="none" stroke="#000" stroke-width="1.75"/>
<path d="M673.0,162.0 L687.6,143.3 M685.6,145.8 L690.9,147.9" fill="none" stroke="#000" stroke-width="1.75"/>
<circle cx="696.9" cy="152.8" r="3.4" fill="none" stroke="#000" stroke-width="1.5"/>
<circle cx="714.2" cy="152.8" r="3.4" fill="none" stroke="#000" stroke-width="1.5"/>
<path d="M726.5,164.2 L736.9,141.9 M735.5,144.8 L741.1,145.6" fill="none" stroke="#000" stroke-width="1.75"/>
<path d="M741.8,163.5 L756.3,144.0 M754.4,146.6 L759.7,148.5" fill="none" stroke="#000" stroke-width="1.75"/>
<path d="M759.8,163.5 L773.0,142.6 M771.3,145.3 L776.7,146.8" fill="none" stroke="#000" stroke-width="1.75"/>
<path d="M776.5,163.5 L791.0,142.6 M789.2,145.2 L794.5,147.0" fill="none" stroke="#000" stroke-width="1.75"/>
<path d="M795.2,163.5 L807.0,142.6 M805.4,145.4 L810.9,146.6" fill="none" stroke="#000" stroke-width="1.75"/>
<path d="M813.8,164.2 L821.4,141.2 M820.4,144.3 L826.0,144.5" fill="none" stroke="#000" stroke-width="1.75"/>
<path d="M832.5,164.2 L838.8,141.2 M838.0,144.3 L843.6,144.2" fill="none" stroke="#000" stroke-width="1.75"/>
<path d="M850.6,164.2 L854.8,141.2 M854.2,144.4 L859.8,143.8" fill="none" stroke="#000" stroke-width="1.75"/>
<path d="M868.0,164.2 L871.4,141.2 M870.9,144.4 L876.5,143.6" fill="none" stroke="#000" stroke-width="1.75"/>
<path d="M883.9,164.2 L890.2,141.2 M889.4,144.3 L895.0,144.2" fill="none" stroke="#000" stroke-width="1.75"/>
<path d="M899.9,164.2 L909.6,141.2 M908.4,144.2 L914.0,144.8" fill="none" stroke="#000" stroke-width="1.75"/>
<circle cx="921.4" cy="152.8" r="3.4" fill="none" stroke="#000" stroke-width="1.5"/>
<circle cx="938.5" cy="152.8" r="3.4" fill="none" stroke="#000" stroke-width="1.5"/>
<circle cx="956.1" cy="152.8" r="3.4" fill="none" stroke="#000" stroke-width="1.5"/>
<circle cx="973.5" cy="152.8" r="3.4" fill="none" stroke="#000" stroke-width="1.5"/>
<circle cx="990.6" cy="152.8" r="3.4" fill="none" stroke="#000" stroke-width="1.5"/>
<circle cx="1007.8" cy="152.8" r="3.4" fill="none" stroke="#000" stroke-width="1.5"/>
<path d="M1022.8,164.9 L1028.0,141.2 M1027.3,144.4 L1032.9,144.0" fill="none" stroke="#000" stroke-width="1.75"/>
<circle cx="1042.5" cy="152.8" r="3.4" fill="none" stroke="#000" stroke-width="1.5"/>
<circle cx="1059.6" cy="152.8" r="3.4" fill="none" stroke="#000" stroke-width="1.5"/>
<circle cx="1077.0" cy="152.8" r="3.4" fill="none" stroke="#000" stroke-width="1.5"/>
<circle cx="1094.3" cy="152.8" r="3.4" fill="none" stroke="#000" stroke-width="1.5"/>
<text x="10" y="21.5" style="font-family:'Liberation Sans',sans-serif;font-size:16px" fill="#0000f0">(kraj lahko izberete v meniju)</text>
<text x="400" y="37" style="font-family:'Liberation Sans',sans-serif;font-size:24px" fill="#0000f0">Zagreb 7 dni</text>
<text x="1142.5" y="21.5" text-anchor="end" style="font-family:'Liberation Sans',sans-serif;font-size:16px" fill="#0000f0">Zadnja posodobitev: 23.11.2025 - 00:09</text>
<text x="195.6" y="69" text-anchor="middle" style="font-family:'DejaVu Sans',sans-serif;font-size:17.5px" fill="#d40000">nedelja</text>
<text x="195.6" y="89.5" text-anchor="middle" style="font-family:'DejaVu Sans',sans-serif;font-size:17.5px" fill="#d40000">23.11</text>
<text x="333.7" y="69" text-anchor="middle" style="font-family:'DejaVu Sans',sans-serif;font-size:17.5px" fill="#111">ponedeljek</text>
<text x="333.7" y="89.5" text-anchor="middle" style="font-family:'DejaVu Sans',sans-serif;font-size:17.5px" fill="#111">24.11</text>
<text x="471.9" y="69" text-anchor="middle" style="font-family:'DejaVu Sans',sans-serif;font-size:17.5px" fill="#111">torek</text>
<text x="471.9" y="89.5" text-anchor="middle" style="font-family:'DejaVu Sans',sans-serif;font-size:17.5px" fill="#111">25.11</text>
<text x="610.0" y="69" text-anchor="middle" style="font-family:'DejaVu Sans',sans-serif;font-size:17.5px" fill="#111">sreda</text>
<text x="610.0" y="89.5" text-anchor="middle" style="font-family:'DejaVu Sans',sans-serif;font-size:17.5px" fill="#111">26.11</text>
<text x="748.1" y="69" text-anchor="middle" style="font-family:'DejaVu Sans',sans-serif;font-size:17.5px" fill="#111">četrtek</text>
<text x="748.1" y="89.5" text-anchor="middle" style="font-family:'DejaVu Sans',sans-serif;font-size:17.5px" fill="#111">27.11</text>
<text x="886.3" y="69" text-anchor="middle" style="font-family:'DejaVu Sans',sans-serif;font-size:17.5px" fill="#111">petek</text>
<text x="886.3" y="89.5" text-anchor="middle" style="font-family:'DejaVu Sans',sans-serif;font-size:17.5px" fill="#111">28.11</text>
<text x="1024.4" y="69" text-anchor="middle" style="font-family:'DejaVu Sans',sans-serif;font-size:17.5px" fill="#d40000">sobota</text>
<text x="1024.4" y="89.5" text-anchor="middle" style="font-family:'DejaVu Sans',sans-serif;font-size:17.5px" fill="#d40000">29.11</text>
<text x="122.5" y="365.5" text-anchor="end" style="font-family:'DejaVu Sans',sans-serif;font-size:17px" fill="#111">0</text>
<text x="122.5" y="328.3" text-anchor="end" style="font-family:'DejaVu Sans',sans-serif;font-size:17px" fill="#111">2</text>
<text x="122.5" y="291.1" text-anchor="end" style="font-family:'DejaVu Sans',sans-serif;font-size:17px" fill="#111">3</text>
<text x="122.5" y="253.9" text-anchor="end" style="font-family:'DejaVu Sans',sans-serif;font-size:17px" fill="#111">4</text>
<text x="122.5" y="216.7" text-anchor="end" style="font-family:'DejaVu Sans',sans-serif;font-size:17px" fill="#111">6</text>
<text x="122.5" y="179.5" text-anchor="end" style="font-family:'DejaVu Sans',sans-serif;font-size:17px" fill="#111">8</text>
<text x="46.3" y="365.8" style="font-family:'DejaVu Sans',sans-serif;font-size:18px" fill="#f00">-7</text>
<text x="46.3" y="328.6" style="font-family:'DejaVu Sans',sans-serif;font-size:18px" fill="#f00">-3</text>
<text x="46.3" y="291.4" style="font-family:'DejaVu Sans',sans-serif;font-size:18px" fill="#f00">1</text>
<text x="46.3" y="254.2" style="font-family:'DejaVu Sans',sans-serif;font-size:18px" fill="#f00">5</text>
<text x="46.3" y="217.0" style="font-family:'DejaVu Sans',sans-serif;font-size:18px" fill="#f00">9</text>
<text x="46.3" y="179.8" style="font-family:'DejaVu Sans',sans-serif;font-size:18px" fill="#f00">13</text>
<text x="1099.5" y="364.7" style="font-family:'DejaVu Sans',sans-serif;font-size:17px" fill="#111">0</text>
<text x="1099.5" y="327.5" style="font-family:'DejaVu Sans',sans-serif;font-size:17px" fill="#111">1.5</text>
<text x="1099.5" y="290.3" style="font-family:'DejaVu Sans',sans-serif;font-size:17px" fill="#111">3.5</text>
<text x="1099.5" y="253.1" style="font-family:'DejaVu Sans',sans-serif;font-size:17px" fill="#111">6.0</text>
<text x="1099.5" y="215.9" style="font-family:'DejaVu Sans',sans-serif;font-size:17px" fill="#111">9.0</text>
<text x="1099.5" y="178.7" style="font-family:'DejaVu Sans',sans-serif;font-size:17px" fill="#111">14</text>
<text transform="translate(39,264.5) rotate(-90)" text-anchor="middle" style="font-family:'DejaVu Sans',sans-serif;font-size:19px" fill="#f00">Temperatura (°C)</text>
<text transform="translate(100.2,263) rotate(-90)" text-anchor="middle" style="font-family:'DejaVu Sans',sans-serif;font-size:19px" fill="#111">Padavine (mm/h)</text>
<text transform="translate(1146.5,250.8) rotate(-90)" text-anchor="middle" style="font-family:'DejaVu Sans',sans-serif;font-size:19px" fill="#111">Višina oblakov (km)</text>
<text x="160.8" y="376.5" text-anchor="middle" style="font-family:'DejaVu Sans',sans-serif;font-size:17px" fill="#111">06</text>
<text x="195.4" y="376.5" text-anchor="middle" style="font-family:'DejaVu Sans',sans-serif;font-size:17px" fill="#111">12</text>
<text x="229.9" y="376.5" text-anchor="middle" style="font-family:'DejaVu Sans',sans-serif;font-size:17px" fill="#111">18</text>
<text x="264.4" y="376.5" text-anchor="middle" style="font-family:'DejaVu Sans',sans-serif;font-size:17px" fill="#111">pon</text>
<text x="299.0" y="376.5" text-anchor="middle" style="font-family:'DejaVu Sans',sans-serif;font-size:17px" fill="#111">06</text>
<text x="333.5" y="376.5" text-anchor="middle" style="font-family:'DejaVu Sans',sans-serif;font-size:17px" fill="#111">12</text>
<text x="368.1" y="376.5" text-anchor="middle" style="font-family:'DejaVu Sans',sans-serif;font-size:17px" fill="#111">18</text>
<text x="402.6" y="376.5" text-anchor="middle" style="font-family:'DejaVu Sans',sans-serif;font-size:17px" fill="#111">tor</text>
<text x="437.1" y="376.5" text-anchor="middle" style="font-family:'DejaVu Sans',sans-serif;font-size:17px" fill="#111">06</text>
<text x="471.7" y="376.5" text-anchor="middle" style="font-family:'DejaVu Sans',sans-serif;font-size:17px" fill="#111">12</text>
<text x="506.2" y="376.5" text-anchor="middle" style="font-family:'DejaVu Sans',sans-serif;font-size:17px" fill="#111">18</text>
<text x="540.7" y="376.5" text-anchor="middle" style="font-family:'DejaVu Sans',sans-serif;font-size:17px" fill="#111">sre</text>
<text x="575.3" y="376.5" text-anchor="middle" style="font-family:'DejaVu Sans',sans-serif;font-size:17px" fill="#111">06</text>
<text x="609.8" y="376.5" text-anchor="middle" style="font-family:'DejaVu Sans',sans-serif;font-size:17px" fill="#111">12</text>
<text x="644.3" y="376.5" text-anchor="middle" style="font-family:'DejaVu Sans',sans-serif;font-size:17px" fill="#111">18</text>
<text x="678.9" y="376.5" text-anchor="middle" style="font-family:'DejaVu Sans',sans-serif;font-size:17px" fill="#111">čet</text>
<text x="713.4" y="376.5" text-anchor="middle" style="font-family:'DejaVu Sans',sans-serif;font-size:17px" fill="#111">06</text>
<text x="747.9" y="376.5" text-anchor="middle" style="font-family:'DejaVu Sans',sans-serif;font-size:17px" fill="#111">12</text>
<text x="782.5" y="376.5" text-anchor="middle" style="font-family:'DejaVu Sans',sans-serif;font-size:17px" fill="#111">18</text>
<text x="817.0" y="376.5" text-anchor="middle" style="font-family:'DejaVu Sans',sans-serif;font-size:17px" fill="#111">pet</text>
<text x="851.6" y="376.5" text-anchor="middle" style="font-family:'DejaVu Sans',sans-serif;font-size:17px" fill="#111">06</text>
<text x="886.1" y="376.5" text-anchor="middle" style="font-family:'DejaVu Sans',sans-serif;font-size:17px" fill="#111">12</text>
<text x="920.6" y="376.5" text-anchor="middle" style="font-family:'DejaVu Sans',sans-serif;font-size:17px" fill="#111">18</text>
<text x="955.2" y="376.5" text-anchor="middle" style="font-family:'DejaVu Sans',sans-serif;font-size:17px" fill="#111">sob</text>
<text x="989.7" y="376.5" text-anchor="middle" style="font-family:'DejaVu Sans',sans-serif;font-size:17px" fill="#111">06</text>
<text x="1024.2" y="376.5" text-anchor="middle" style="font-family:'DejaVu Sans',sans-serif;font-size:17px" fill="#111">12</text>
<text x="1058.8" y="376.5" text-anchor="middle" style="font-family:'DejaVu Sans',sans-serif;font-size:17px" fill="#111">18</text>
<rect x="127" y="390" width="32" height="11" fill="#0a50f5"/>
<rect x="165" y="386.3" width="104.7" height="19.4" fill="#fff"/>
<text x="169.5" y="401.8" style="font-family:'Liberation Sans',sans-serif;font-size:19px" fill="#000">Dež</text>
<rect x="277.8" y="390" width="32.2" height="11" fill="#14d8c4"/>
<rect x="310" y="386.3" width="110" height="19.4" fill="#fff"/>
<text x="319.5" y="401.8" style="font-family:'Liberation Sans',sans-serif;font-size:19px" fill="#000">Možnost ploh</text>
<text x="499.5" y="401.8" style="font-family:'Liberation Sans',sans-serif;font-size:16px" fill="#0000f0">© vreme.us &amp; vreme.pro</text>
<rect x="758.6" y="385" width="181" height="20.5" fill="#fff"/>
<text x="759.5" y="402" style="font-family:'Liberation Sans',sans-serif;font-size:19.3px" fill="#000">Gostota oblakov (%)</text>
<rect x="949.1" y="385.4" width="29.1" height="13" fill="#d0d0d0"/>
<rect x="978.2" y="385.4" width="29.1" height="13" fill="#b0b0b0"/>
<rect x="1007.3" y="385.4" width="29.1" height="13" fill="#909090"/>
<rect x="1036.4" y="385.4" width="29.1" height="13" fill="#717171"/>
<rect x="1065.5" y="385.4" width="29.1" height="13" fill="#555555"/>
<rect x="949.1" y="385.4" width="145.5" height="13" fill="none" stroke="#333" stroke-width="1"/>
<text x="949.4" y="415" text-anchor="middle" style="font-family:'DejaVu Sans',sans-serif;font-size:16px" fill="#111">10</text>
<text x="978.5" y="415" text-anchor="middle" style="font-family:'DejaVu Sans',sans-serif;font-size:16px" fill="#111">25</text>
<text x="1007.6" y="415" text-anchor="middle" style="font-family:'DejaVu Sans',sans-serif;font-size:16px" fill="#111">50</text>
<text x="1036.7" y="415" text-anchor="middle" style="font-family:'DejaVu Sans',sans-serif;font-size:16px" fill="#111">75</text>
<text x="1065.8" y="415" text-anchor="middle" style="font-family:'DejaVu Sans',sans-serif;font-size:16px" fill="#111">90</text>
<text x="1094.9" y="415" text-anchor="middle" style="font-family:'DejaVu Sans',sans-serif;font-size:16px" fill="#111">100</text>
</svg></body></html>
